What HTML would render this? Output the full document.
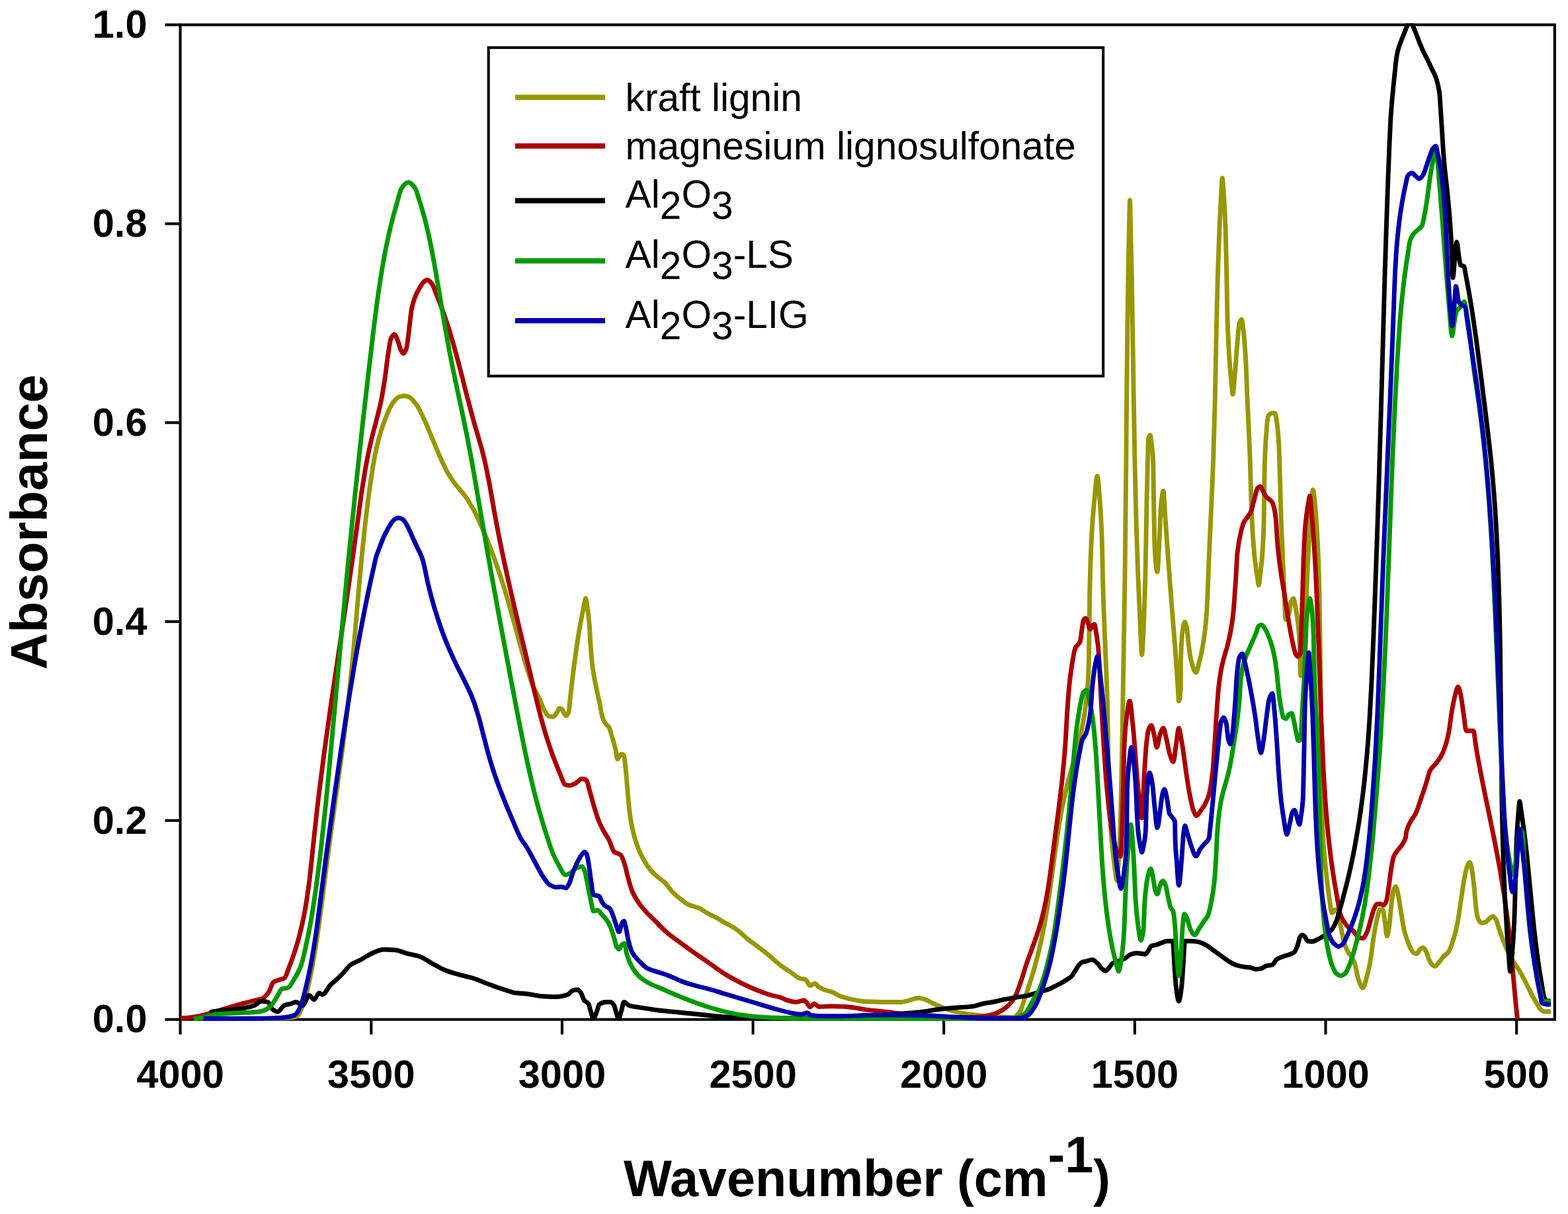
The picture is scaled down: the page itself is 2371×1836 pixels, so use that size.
<!DOCTYPE html>
<html lang="en"><head><meta charset="utf-8"><title>FTIR spectra</title>
<style>html,body{margin:0;padding:0;background:#fff}svg{display:block}text{font-family:"Liberation Sans",Arial,Helvetica,sans-serif;fill:#000}.tk{font-weight:bold;font-size:59.5px}.ax{font-weight:bold;font-size:77.3px}.lg{font-size:58.65px}.cv{fill:none;stroke-width:6.9;stroke-linejoin:round;stroke-linecap:butt}.fr{fill:none;stroke:#000;stroke-width:4.1}</style></head><body>
<svg width="2371" height="1836" viewBox="0 0 2371 1836">
<rect width="2371" height="1836" fill="#fff"/>
<g class="fr">
<rect x="272.6" y="37.5" width="2078.3" height="1504.3"/>
<line x1="249.5" x2="272.6" y1="1541.8" y2="1541.8"/>
<line x1="249.5" x2="272.6" y1="1240.9" y2="1240.9"/>
<line x1="249.5" x2="272.6" y1="940.1" y2="940.1"/>
<line x1="249.5" x2="272.6" y1="639.2" y2="639.2"/>
<line x1="249.5" x2="272.6" y1="338.4" y2="338.4"/>
<line x1="249.5" x2="272.6" y1="37.5" y2="37.5"/>
<line x1="272.6" x2="272.6" y1="1541.8" y2="1564.5"/>
<line x1="561.3" x2="561.3" y1="1541.8" y2="1564.5"/>
<line x1="849.9" x2="849.9" y1="1541.8" y2="1564.5"/>
<line x1="1138.6" x2="1138.6" y1="1541.8" y2="1564.5"/>
<line x1="1427.2" x2="1427.2" y1="1541.8" y2="1564.5"/>
<line x1="1715.9" x2="1715.9" y1="1541.8" y2="1564.5"/>
<line x1="2004.5" x2="2004.5" y1="1541.8" y2="1564.5"/>
<line x1="2293.2" x2="2293.2" y1="1541.8" y2="1564.5"/>
</g>
<clipPath id="pc"><rect x="270.4" y="35.3" width="2082.7" height="1508.7"/></clipPath>
<g class="cv" clip-path="url(#pc)">
<path stroke="#979700" d="M393.0 1540.8C398.7 1540.6 404.3 1540.5 410.0 1540.2C421.7 1539.8 433.3 1539.8 445.0 1538.5C447.5 1538.2 450.1 1535.9 452.6 1533.0C454.5 1530.7 456.5 1523.6 458.4 1518.0C460.4 1512.2 462.5 1505.8 464.5 1498.0C467.0 1488.4 469.5 1476.2 472.0 1463.0C474.8 1447.9 477.7 1429.7 480.5 1410.5C483.0 1393.9 485.4 1374.4 487.9 1355.5C490.3 1336.9 492.7 1316.5 495.2 1298.0C497.6 1279.1 500.1 1261.0 502.6 1243.0C505.0 1225.2 507.5 1208.1 509.9 1190.5C512.3 1173.1 514.8 1155.9 517.2 1138.0C518.1 1131.4 519.0 1124.7 519.8 1117.8C522.3 1098.7 524.7 1079.5 527.2 1057.5C529.3 1038.6 531.4 1017.3 533.5 995.0C534.9 979.4 536.4 961.9 537.9 945.0C539.3 928.6 540.7 911.2 542.2 895.0C543.7 877.9 545.2 860.6 546.7 845.0C548.4 827.2 550.2 810.0 551.9 795.0C555.0 767.8 558.1 743.4 561.3 722.5C563.0 710.9 564.8 700.2 566.5 691.2C568.4 681.7 570.2 673.4 572.1 666.2C574.2 658.1 576.3 651.2 578.4 645.0C580.6 638.5 582.8 632.8 585.0 627.5C587.1 622.5 589.2 617.3 591.3 613.8C593.3 610.2 595.4 607.1 597.5 605.0C599.6 602.9 601.7 600.5 603.8 600.0C606.7 599.3 609.6 598.8 612.5 598.8C615.0 598.8 617.5 600.0 620.0 601.2C622.1 602.3 624.2 605.1 626.2 607.5C628.3 609.9 630.4 612.8 632.5 616.2C634.6 619.7 636.7 624.4 638.8 628.8C640.8 633.1 642.9 637.8 645.0 642.5C647.1 647.3 649.2 652.4 651.3 657.5C653.3 662.4 655.4 667.6 657.5 672.5C659.6 677.6 661.7 682.7 663.8 687.5C665.8 692.2 667.9 696.9 670.0 701.2C672.1 705.6 674.2 710.0 676.2 713.8C678.3 717.5 680.4 720.6 682.5 723.8C684.6 726.9 686.7 729.8 688.8 732.5C690.8 735.2 692.9 737.5 695.0 740.0C697.1 742.5 699.2 744.8 701.2 747.5C703.3 750.2 705.4 753.0 707.5 756.2C709.2 758.9 710.8 762.2 712.5 765.0C713.7 767.1 715.0 768.8 716.2 771.0C721.8 781.0 727.4 794.4 733.0 807.5C737.0 816.8 740.9 826.7 744.9 837.5C750.8 853.5 756.7 871.1 762.6 890.0C767.4 905.4 772.2 922.9 777.0 940.0C780.4 952.2 783.8 965.5 787.2 977.5C790.6 989.6 794.0 1001.7 797.5 1012.5C800.3 1021.4 803.1 1030.8 805.9 1037.5C809.3 1045.5 812.6 1050.3 816.0 1057.5C818.5 1062.9 821.0 1071.1 823.5 1075.0C826.0 1078.9 828.5 1083.8 831.0 1083.8C833.1 1083.8 835.2 1083.8 837.2 1083.8C838.9 1083.8 840.6 1079.9 842.2 1077.5C843.5 1075.7 844.8 1071.2 846.0 1071.2C847.2 1071.2 848.5 1071.8 849.8 1072.5C850.8 1073.1 851.9 1077.1 853.0 1078.8C854.0 1080.3 855.0 1082.5 856.0 1082.5C857.3 1082.5 858.5 1080.5 859.8 1077.5C860.6 1075.5 861.5 1062.4 862.3 1055.0C863.7 1043.1 865.1 1031.1 866.4 1020.0C867.7 1009.5 869.0 999.3 870.3 990.0C871.5 981.1 872.8 972.8 874.0 965.0C875.4 956.1 876.8 947.7 878.3 940.0C879.9 931.0 881.6 922.6 883.2 915.0C884.0 911.4 884.8 905.0 885.6 905.0C886.2 905.0 886.9 910.9 887.6 915.0C888.8 922.2 890.0 931.0 891.2 945.0C891.8 951.8 892.4 966.7 893.0 975.0C893.9 988.0 894.9 1000.0 895.8 1007.5C896.9 1016.3 898.0 1021.6 899.1 1027.5C900.3 1034.0 901.5 1039.3 902.7 1045.0C904.1 1051.9 905.6 1058.0 907.0 1065.0C908.4 1071.4 909.7 1081.1 911.0 1085.0C912.7 1089.8 914.3 1092.8 916.0 1095.0C917.7 1097.2 919.3 1097.4 921.0 1100.0C922.1 1101.7 923.1 1106.6 924.2 1110.0C925.0 1112.6 925.8 1115.2 926.6 1118.0C928.0 1122.7 929.4 1126.9 930.8 1133.0C931.7 1137.1 932.6 1148.0 933.5 1148.0C935.6 1148.0 937.7 1140.5 939.8 1140.5C941.0 1140.5 942.2 1141.4 943.5 1143.0C944.4 1144.1 945.2 1155.0 946.1 1163.0C946.9 1170.3 947.7 1181.3 948.5 1190.5C949.3 1199.6 950.1 1210.9 950.9 1218.0C952.1 1229.6 953.4 1238.6 954.7 1245.5C956.5 1255.0 958.2 1261.9 960.0 1268.0C962.0 1275.0 964.0 1280.7 966.0 1285.5C968.5 1291.5 971.0 1296.2 973.5 1300.5C976.8 1306.2 980.2 1311.5 983.5 1315.5C986.8 1319.5 990.2 1322.5 993.5 1325.5C997.7 1329.2 1001.8 1331.4 1006.0 1335.5C1009.3 1338.8 1012.7 1344.5 1016.0 1348.0C1020.2 1352.4 1024.3 1356.0 1028.5 1359.2C1032.7 1362.5 1036.8 1366.1 1041.0 1368.0C1046.0 1370.3 1051.0 1370.9 1056.0 1373.0C1061.0 1375.1 1066.0 1379.1 1071.0 1381.8C1075.2 1384.0 1079.3 1385.7 1083.5 1388.0C1087.7 1390.3 1091.8 1393.1 1096.0 1395.5C1101.8 1398.9 1107.7 1401.5 1113.5 1405.5C1119.3 1409.5 1125.2 1415.8 1131.0 1420.5C1136.0 1424.5 1141.0 1427.9 1146.0 1431.8C1151.8 1436.2 1157.7 1440.7 1163.5 1445.5C1169.3 1450.3 1175.2 1456.1 1181.0 1460.5C1186.0 1464.2 1191.0 1467.1 1196.0 1470.5C1200.2 1473.3 1204.3 1477.7 1208.5 1479.2C1211.8 1480.5 1215.2 1480.3 1218.5 1481.8C1220.6 1482.7 1222.7 1490.5 1224.8 1490.5C1227.2 1490.5 1229.8 1487.5 1232.2 1487.5C1234.3 1487.5 1236.4 1491.7 1238.5 1493.0C1241.0 1494.6 1243.5 1495.8 1246.0 1496.8C1250.2 1498.3 1254.3 1498.9 1258.5 1500.5C1262.7 1502.1 1266.8 1505.2 1271.0 1506.8C1275.2 1508.3 1279.3 1509.5 1283.5 1510.5C1287.7 1511.5 1291.8 1512.3 1296.0 1513.0C1300.2 1513.7 1304.3 1514.6 1308.5 1514.8C1319.6 1515.2 1330.7 1515.5 1341.8 1515.5C1348.5 1515.5 1355.2 1515.5 1362.0 1515.5C1366.2 1515.5 1370.3 1513.9 1374.5 1513.0C1379.5 1511.9 1384.5 1509.2 1389.5 1509.2C1392.8 1509.2 1396.2 1510.7 1399.5 1511.8C1403.7 1513.1 1407.8 1516.1 1412.0 1518.0C1417.0 1520.3 1422.0 1522.5 1427.0 1524.2C1433.7 1526.6 1440.3 1528.9 1447.0 1530.5C1453.7 1532.1 1460.3 1533.4 1467.0 1534.2C1475.3 1535.3 1483.7 1536.2 1492.0 1536.8C1500.3 1537.3 1508.7 1537.6 1517.0 1538.0C1522.0 1538.2 1527.0 1538.8 1532.0 1538.8C1535.3 1538.8 1538.7 1534.8 1542.0 1530.5C1544.5 1527.3 1546.9 1517.5 1549.4 1510.5C1551.9 1503.4 1554.4 1495.9 1556.9 1488.0C1559.4 1480.2 1561.9 1472.0 1564.4 1463.0C1567.1 1453.0 1569.9 1442.4 1572.6 1430.5C1574.4 1422.9 1576.2 1414.6 1577.9 1405.5C1579.7 1396.5 1581.4 1386.4 1583.2 1375.7C1589.5 1337.0 1595.8 1280.4 1602.1 1243.7C1604.5 1229.9 1606.8 1217.8 1609.2 1207.0C1612.3 1192.5 1615.5 1180.7 1618.7 1168.7C1621.8 1156.9 1624.9 1147.3 1628.0 1135.3C1630.0 1127.5 1632.0 1119.6 1634.1 1110.3C1635.7 1102.9 1637.3 1095.2 1639.0 1085.3C1640.5 1076.2 1642.0 1067.3 1643.5 1052.0C1644.3 1044.2 1645.1 1036.3 1645.8 1018.7C1646.2 1011.0 1646.5 995.5 1646.8 977.0C1647.1 958.7 1647.5 910.7 1647.8 895.0C1648.7 851.0 1649.7 828.9 1650.6 811.7C1652.1 783.5 1653.6 768.5 1655.1 753.3C1656.5 739.9 1657.8 720.0 1659.1 720.0C1660.4 720.0 1661.6 738.6 1662.8 753.3C1663.9 766.7 1665.0 783.1 1666.1 811.7C1666.8 828.5 1667.4 873.5 1668.1 895.0C1669.1 929.5 1670.1 949.9 1671.2 977.0C1672.2 1004.9 1673.3 1021.2 1674.4 1060.0C1674.9 1080.2 1675.5 1129.3 1676.0 1150.0C1677.4 1201.4 1678.8 1238.7 1680.2 1259.0C1681.9 1284.0 1683.6 1297.4 1685.3 1310.0C1686.6 1319.1 1687.8 1332.0 1689.0 1332.0C1689.7 1332.0 1690.3 1318.6 1690.9 1310.0C1691.9 1296.5 1692.9 1283.4 1693.8 1259.0C1694.7 1236.8 1695.6 1189.7 1696.5 1143.7C1697.0 1120.3 1697.4 1087.1 1697.9 1060.3C1698.3 1031.5 1698.8 1006.1 1699.3 977.0C1699.9 940.7 1700.5 908.2 1701.1 862.0C1701.7 817.6 1702.3 755.8 1702.9 695.0C1703.2 659.6 1703.5 614.2 1703.9 580.0C1704.2 549.1 1704.5 520.0 1704.8 496.0C1705.2 463.9 1705.6 436.4 1706.0 413.0C1706.6 380.6 1707.2 352.8 1707.7 330.0C1708.0 319.7 1708.3 302.7 1708.5 302.7C1708.8 302.7 1709.0 320.1 1709.3 330.0C1709.9 354.4 1710.6 381.4 1711.2 413.0C1711.7 437.1 1712.2 466.4 1712.6 496.0C1713.1 522.1 1713.5 553.4 1713.9 580.0C1714.6 620.6 1715.2 662.5 1715.9 695.0C1716.5 727.0 1717.2 754.8 1717.8 778.3C1718.7 810.8 1719.6 837.8 1720.5 861.7C1721.5 887.1 1722.4 909.0 1723.4 928.3C1724.5 951.9 1725.7 990.3 1726.8 990.3C1727.2 990.3 1727.5 982.5 1727.9 976.8C1729.3 953.0 1730.7 917.1 1732.1 861.7C1732.7 839.5 1733.3 788.7 1733.9 761.7C1734.4 735.2 1735.0 713.3 1735.5 695.0C1735.9 682.7 1736.3 664.5 1736.7 663.0C1737.5 659.5 1738.4 658.0 1739.3 658.0C1739.9 658.0 1740.6 665.9 1741.3 671.3C1742.1 677.4 1742.8 680.4 1743.6 695.0C1744.0 702.2 1744.4 741.5 1744.7 761.7C1745.2 786.1 1745.6 820.3 1746.1 828.3C1747.4 851.4 1748.7 865.0 1750.0 865.0C1751.1 865.0 1752.2 831.4 1753.3 811.7C1754.2 796.7 1755.0 769.2 1755.8 761.7C1757.0 751.4 1758.1 742.5 1759.2 742.5C1760.1 742.5 1760.9 766.2 1761.7 778.3C1762.9 794.7 1764.0 812.3 1765.2 828.3C1766.4 845.7 1767.7 862.2 1768.9 878.3C1770.2 895.5 1771.5 911.7 1772.8 928.3C1773.7 939.5 1774.6 950.3 1775.5 961.7C1776.5 974.2 1777.4 986.6 1778.4 1000.0C1779.3 1012.7 1780.3 1025.7 1781.2 1040.0C1781.6 1046.4 1782.0 1060.3 1782.4 1060.3C1783.4 1060.3 1784.3 1057.4 1785.3 1040.0C1785.4 1038.5 1785.5 1003.3 1785.5 1000.0C1786.5 963.8 1787.4 959.0 1788.3 953.3C1789.4 946.3 1790.5 940.8 1791.7 940.8C1792.8 940.8 1793.9 947.2 1795.1 953.3C1795.9 957.8 1796.7 970.7 1797.6 977.0C1798.7 985.8 1799.9 994.4 1801.0 998.7C1803.5 1007.9 1806.0 1017.0 1808.5 1017.0C1810.3 1017.0 1812.1 1005.7 1814.0 998.7C1815.6 992.5 1817.2 986.3 1818.7 977.0C1820.7 965.7 1822.6 953.5 1824.5 928.3C1825.3 918.5 1826.0 895.9 1826.8 878.3C1827.4 862.5 1828.1 844.0 1828.8 828.3C1829.6 810.7 1830.3 795.2 1831.1 778.3C1831.8 761.8 1832.6 746.1 1833.3 728.3C1833.8 717.8 1834.2 707.6 1834.6 695.0C1835.4 672.2 1836.2 645.3 1837.0 613.0C1837.5 594.2 1838.0 569.0 1838.4 546.3C1838.9 524.5 1839.3 499.3 1839.8 479.7C1840.3 454.7 1840.9 431.4 1841.5 413.0C1842.3 387.0 1843.1 365.8 1843.9 347.7C1844.7 328.2 1845.6 312.4 1846.4 297.7C1847.1 287.2 1847.7 269.3 1848.3 269.3C1849.1 269.3 1849.9 286.0 1850.7 297.7C1851.5 310.3 1852.4 324.0 1853.2 347.7C1853.7 361.7 1854.2 389.3 1854.7 413.0C1855.2 433.4 1855.6 465.8 1856.0 479.7C1857.1 513.0 1858.1 531.1 1859.2 546.3C1860.5 564.9 1861.8 576.2 1863.0 588.0C1863.4 591.1 1863.7 596.3 1864.0 596.3C1865.2 596.3 1866.3 575.6 1867.5 563.0C1868.6 550.9 1869.7 533.7 1870.8 521.3C1871.9 509.0 1873.1 490.9 1874.2 488.0C1875.3 485.1 1876.4 483.0 1877.6 483.0C1878.3 483.0 1879.1 490.5 1879.8 496.3C1881.2 506.7 1882.5 523.4 1883.8 546.3C1884.5 558.0 1885.2 580.7 1885.8 596.3C1886.6 614.0 1887.4 628.9 1888.1 646.3C1888.8 661.8 1889.5 675.5 1890.2 694.8C1890.7 708.7 1891.2 730.5 1891.6 745.0C1892.3 764.1 1892.9 783.6 1893.6 795.0C1894.9 818.2 1896.1 832.8 1897.4 845.0C1899.0 859.3 1900.5 869.4 1902.0 878.3C1902.4 880.9 1902.9 885.0 1903.3 885.0C1904.1 885.0 1904.8 876.0 1905.5 870.0C1906.9 859.4 1908.2 849.7 1909.5 828.3C1910.1 818.6 1910.7 806.4 1911.3 778.3C1911.5 769.6 1911.7 739.9 1911.9 728.3C1912.1 713.5 1912.4 701.5 1912.6 694.8C1913.4 673.9 1914.1 664.1 1914.9 654.7C1915.7 643.7 1916.6 631.1 1917.5 629.7C1919.6 626.2 1921.7 624.7 1923.8 624.7C1925.3 624.7 1926.8 624.9 1928.3 625.5C1928.9 625.7 1929.4 629.7 1930.0 633.0C1931.0 639.3 1932.1 648.1 1933.2 663.0C1933.7 669.6 1934.2 681.7 1934.6 694.8C1935.1 707.6 1935.6 729.5 1936.0 745.0C1936.6 763.0 1937.1 780.2 1937.6 795.0C1938.3 813.6 1939.0 829.3 1939.7 845.0C1940.4 862.7 1941.2 878.7 1942.0 895.0C1942.6 909.2 1943.3 936.7 1944.0 936.7C1945.7 936.7 1947.3 932.8 1949.0 928.3C1950.1 925.4 1951.2 912.6 1952.3 910.0C1953.5 907.4 1954.6 905.0 1955.7 905.0C1956.9 905.0 1958.1 913.8 1959.2 920.0C1960.8 928.1 1962.3 936.7 1963.8 953.3C1964.3 958.4 1964.8 966.0 1965.3 976.8C1965.7 986.3 1966.1 1022.0 1966.5 1022.0C1967.7 1022.0 1968.8 1002.9 1970.0 990.0C1971.4 974.0 1972.8 953.9 1974.2 928.3C1975.2 910.9 1976.2 882.9 1977.1 861.7C1977.9 844.3 1978.7 825.1 1979.5 811.7C1980.7 791.2 1981.9 775.2 1983.2 761.7C1983.9 753.6 1984.6 740.8 1985.3 740.8C1986.8 740.8 1988.3 761.3 1989.7 778.3C1991.0 793.0 1992.2 814.1 1993.5 845.0C1994.1 860.3 1994.7 879.4 1995.3 911.7C1995.6 925.8 1995.9 956.3 1996.2 976.8C1997.5 1079.2 1998.9 1230.0 2000.2 1259.0C2001.5 1287.1 2002.9 1295.7 2004.2 1309.0C2006.2 1329.5 2008.2 1345.3 2010.2 1359.0C2011.4 1367.3 2012.7 1380.7 2013.9 1380.7C2015.6 1380.7 2017.3 1375.7 2019.0 1375.7C2020.1 1375.7 2021.2 1377.3 2022.3 1379.0C2024.0 1381.6 2025.7 1392.9 2027.3 1400.7C2029.0 1408.4 2030.7 1420.4 2032.3 1425.7C2034.6 1432.7 2036.8 1437.0 2039.0 1440.7C2040.7 1443.4 2042.3 1444.5 2044.0 1447.3C2045.7 1450.2 2047.3 1453.9 2049.0 1459.0C2050.7 1464.1 2052.3 1476.0 2054.0 1480.7C2056.2 1486.9 2058.4 1494.0 2060.7 1494.0C2062.8 1494.0 2065.0 1483.3 2067.2 1475.7C2069.0 1469.3 2070.8 1460.9 2072.5 1450.7C2074.1 1441.9 2075.6 1426.7 2077.1 1417.3C2078.9 1406.4 2080.7 1396.2 2082.5 1389.0C2083.8 1383.6 2085.2 1375.7 2086.5 1375.7C2087.9 1375.7 2089.3 1375.7 2090.7 1375.7C2091.8 1375.7 2092.9 1385.9 2094.0 1392.3C2095.1 1398.8 2096.2 1415.7 2097.3 1415.7C2098.4 1415.7 2099.6 1407.6 2100.7 1400.7C2101.8 1393.8 2102.9 1376.1 2104.0 1367.3C2105.1 1358.6 2106.2 1348.4 2107.3 1345.7C2108.4 1343.0 2109.6 1340.7 2110.7 1340.7C2112.0 1340.7 2113.3 1349.5 2114.7 1355.7C2116.2 1362.8 2117.7 1375.2 2119.2 1384.0C2120.8 1392.9 2122.3 1403.0 2123.8 1409.0C2126.1 1417.8 2128.4 1424.0 2130.7 1429.0C2132.9 1433.9 2135.1 1439.5 2137.3 1440.7C2139.0 1441.6 2140.7 1442.3 2142.3 1442.3C2144.0 1442.3 2145.7 1437.0 2147.3 1435.7C2148.7 1434.5 2150.1 1433.2 2151.5 1433.2C2152.9 1433.2 2154.3 1435.3 2155.7 1437.3C2157.3 1439.7 2159.0 1447.2 2160.7 1450.7C2162.3 1454.1 2164.0 1457.6 2165.7 1459.0C2167.1 1460.2 2168.4 1461.5 2169.8 1461.5C2171.8 1461.5 2173.7 1457.8 2175.7 1455.7C2177.9 1453.2 2180.1 1449.8 2182.3 1447.3C2185.1 1444.2 2187.9 1443.1 2190.7 1439.0C2192.9 1435.8 2195.0 1429.1 2197.2 1422.3C2199.5 1415.3 2201.8 1407.0 2204.0 1395.7C2205.7 1387.3 2207.4 1373.5 2209.1 1362.3C2210.7 1351.8 2212.3 1338.9 2213.9 1330.7C2215.6 1321.8 2217.3 1312.7 2219.0 1309.0C2220.1 1306.6 2221.2 1304.0 2222.4 1304.0C2223.4 1304.0 2224.4 1309.5 2225.4 1314.0C2226.7 1319.8 2227.9 1330.8 2229.2 1342.3C2230.2 1351.2 2231.2 1369.5 2232.2 1375.7C2233.3 1383.0 2234.5 1388.7 2235.7 1390.7C2237.3 1393.5 2239.0 1395.7 2240.7 1395.7C2242.9 1395.7 2245.1 1394.9 2247.3 1394.0C2249.0 1393.3 2250.7 1390.3 2252.3 1389.0C2254.0 1387.7 2255.7 1385.7 2257.3 1385.7C2258.9 1385.7 2260.4 1388.2 2262.0 1390.7C2263.7 1393.3 2265.4 1400.7 2267.1 1405.7C2268.7 1410.2 2270.2 1414.8 2271.8 1419.0C2273.6 1423.7 2275.4 1428.3 2277.1 1432.3C2279.3 1437.2 2281.5 1441.6 2283.7 1445.7C2285.9 1449.9 2288.1 1453.7 2290.3 1457.3C2292.6 1460.9 2294.8 1463.7 2297.0 1467.3C2299.2 1470.9 2301.4 1474.9 2303.7 1479.0C2305.9 1483.1 2308.1 1487.9 2310.3 1492.3C2312.6 1496.8 2314.8 1501.5 2317.0 1505.7C2319.2 1509.8 2321.4 1513.7 2323.7 1517.3C2325.9 1520.9 2328.1 1525.7 2330.3 1527.3C2332.0 1528.6 2333.7 1529.8 2335.3 1529.8C2338.6 1529.8 2341.8 1529.8 2345.0 1529.3"/>
<path stroke="#AA0000" d="M273.0 1540.0C282.0 1539.6 291.0 1538.3 300.0 1536.8C308.3 1535.4 316.7 1532.4 325.0 1530.0C335.0 1527.2 345.0 1523.8 355.0 1521.0C365.0 1518.2 375.0 1515.4 385.0 1513.0C388.8 1512.1 392.5 1511.9 396.2 1510.5C399.6 1509.3 402.9 1505.1 406.2 1500.5C408.8 1497.1 411.2 1486.6 413.8 1485.0C416.7 1483.1 419.6 1482.8 422.5 1481.8C425.0 1480.9 427.5 1480.7 430.0 1479.2C432.7 1477.7 435.3 1467.2 438.0 1460.5C440.1 1455.1 442.3 1449.4 444.4 1443.0C446.9 1435.5 449.4 1427.5 452.0 1418.0C454.8 1407.3 457.6 1395.6 460.5 1380.5C463.0 1367.1 465.5 1350.1 468.0 1330.5C470.2 1313.2 472.4 1288.2 474.7 1268.0C477.2 1244.8 479.7 1221.6 482.3 1200.5C485.0 1178.3 487.6 1158.1 490.3 1138.0C491.2 1131.1 492.2 1124.4 493.1 1117.8C495.9 1097.2 498.8 1077.2 501.6 1057.5C504.7 1036.2 507.8 1015.7 510.9 995.0C513.4 978.2 515.9 961.7 518.4 945.0C520.9 928.4 523.4 911.9 525.8 895.0C528.3 878.5 530.7 862.1 533.1 845.0C535.4 828.7 537.7 811.8 540.0 795.0C542.3 778.5 544.5 760.1 546.8 745.0C549.6 726.6 552.3 709.3 555.1 695.0C557.5 682.5 559.9 672.0 562.3 662.0C564.4 652.9 566.6 645.5 568.8 637.0C571.0 628.1 573.3 620.3 575.6 609.5C577.8 599.2 579.9 586.3 582.1 572.0C583.6 561.9 585.1 546.8 586.7 537.0C588.2 527.3 589.7 515.1 591.2 512.0C592.9 508.6 594.6 505.8 596.2 505.8C597.9 505.8 599.6 510.8 601.2 514.5C602.9 518.2 604.6 526.5 606.2 529.5C607.5 531.8 608.8 534.5 610.0 534.5C611.5 534.5 613.0 531.1 614.5 527.0C615.9 523.2 617.3 507.6 618.8 497.0C620.0 487.6 621.2 473.2 622.5 467.0C624.2 458.7 625.8 453.8 627.5 449.5C630.0 443.0 632.5 438.6 635.0 434.5C637.1 431.1 639.2 427.3 641.2 425.8C642.9 424.5 644.6 423.2 646.2 423.2C648.3 423.2 650.4 425.8 652.4 428.2C655.2 431.4 657.9 440.4 660.6 447.0C663.8 454.8 667.0 463.1 670.2 472.0C673.5 481.3 676.8 491.3 680.2 502.0C683.3 512.1 686.4 523.1 689.5 534.5C692.8 546.4 696.0 559.4 699.3 572.0C702.0 582.7 704.8 594.0 707.6 604.5C710.7 616.5 713.9 628.2 717.0 639.5C718.7 645.5 720.4 651.2 722.1 657.0C724.0 663.7 725.9 669.9 727.9 677.0C729.4 682.6 730.9 688.4 732.5 695.0C735.1 706.1 737.6 719.0 740.2 732.5C742.8 746.3 745.5 763.1 748.1 777.5C751.2 794.0 754.2 810.0 757.3 825.0C760.8 842.6 764.4 858.9 768.0 875.0C771.4 890.5 774.9 905.2 778.3 920.0C781.5 933.5 784.6 946.7 787.8 960.0C790.2 970.0 792.6 980.0 795.0 990.0C797.7 1001.6 800.5 1013.3 803.3 1025.0C805.9 1035.8 808.4 1047.0 811.0 1057.5C813.5 1067.8 816.1 1078.2 818.6 1087.5C821.6 1098.4 824.5 1108.7 827.5 1118.0C830.3 1127.0 833.2 1135.3 836.0 1143.0C839.3 1152.0 842.7 1160.3 846.0 1168.0C848.9 1174.7 851.8 1185.7 854.7 1186.8C856.8 1187.5 858.9 1188.0 861.0 1188.0C864.3 1188.0 867.7 1185.9 871.0 1184.2C873.9 1182.8 876.8 1178.0 879.8 1178.0C881.8 1178.0 883.9 1178.5 886.0 1179.2C888.1 1180.0 890.2 1191.2 892.2 1198.0C894.3 1204.8 896.4 1213.7 898.5 1220.5C901.0 1228.7 903.5 1237.0 906.0 1243.0C908.5 1249.0 911.0 1253.5 913.5 1258.0C916.0 1262.5 918.5 1265.6 921.0 1270.5C923.5 1275.4 926.0 1285.9 928.5 1288.0C931.8 1290.8 935.2 1290.1 938.5 1293.0C940.6 1294.8 942.7 1301.7 944.8 1308.0C946.4 1313.0 948.1 1322.0 949.8 1328.0C951.8 1335.4 953.9 1343.2 956.0 1348.0C959.3 1355.7 962.7 1360.6 966.0 1365.5C969.3 1370.4 972.7 1374.3 976.0 1378.0C981.0 1383.6 986.0 1388.0 991.0 1393.0C996.8 1398.8 1002.7 1405.5 1008.5 1410.5C1015.2 1416.2 1021.8 1420.6 1028.5 1425.5C1036.0 1431.0 1043.5 1436.5 1051.0 1441.8C1057.7 1446.4 1064.3 1450.9 1071.0 1455.5C1079.3 1461.3 1087.7 1467.9 1096.0 1473.0C1104.3 1478.1 1112.7 1482.6 1121.0 1486.8C1129.3 1490.9 1137.7 1494.7 1146.0 1498.0C1152.7 1500.6 1159.3 1503.1 1166.0 1505.0C1170.2 1506.2 1174.3 1506.8 1178.5 1508.0C1182.7 1509.2 1186.8 1511.9 1191.0 1513.0C1195.2 1514.1 1199.3 1515.5 1203.5 1515.5C1207.7 1515.5 1211.8 1513.0 1216.0 1513.0C1217.7 1513.0 1219.3 1516.1 1221.0 1518.0C1222.2 1519.4 1223.5 1523.0 1224.8 1523.0C1226.8 1523.0 1228.9 1518.0 1231.0 1518.0C1233.5 1518.0 1236.0 1522.5 1238.5 1522.5C1245.2 1522.5 1251.8 1521.8 1258.5 1521.8C1266.8 1521.8 1275.2 1522.4 1283.5 1523.0C1291.8 1523.6 1300.2 1525.7 1308.5 1526.8C1319.6 1528.2 1330.7 1529.2 1341.8 1530.5C1358.5 1532.5 1375.2 1535.6 1392.0 1536.8C1408.7 1537.9 1425.3 1539.2 1442.0 1539.2C1454.5 1539.2 1467.0 1538.8 1479.5 1538.0C1487.8 1537.5 1496.2 1535.5 1504.5 1533.0C1510.3 1531.2 1516.2 1527.6 1522.0 1523.0C1526.2 1519.7 1530.3 1514.9 1534.5 1508.0C1537.7 1502.6 1541.0 1492.2 1544.2 1483.0C1546.8 1475.5 1549.5 1465.8 1552.1 1458.0C1554.8 1450.0 1557.5 1443.0 1560.2 1435.5C1563.3 1426.7 1566.5 1418.8 1569.6 1409.0C1571.6 1403.0 1573.5 1396.6 1575.5 1389.0C1577.7 1380.4 1579.9 1370.7 1582.1 1359.0C1583.9 1349.6 1585.7 1337.9 1587.5 1325.7C1588.9 1315.6 1590.4 1303.5 1591.9 1292.3C1593.3 1281.2 1594.8 1270.1 1596.2 1259.0C1597.6 1248.4 1599.0 1238.1 1600.4 1227.0C1602.4 1211.1 1604.3 1196.1 1606.3 1177.0C1607.8 1162.5 1609.3 1147.5 1610.8 1127.0C1611.8 1113.6 1612.8 1091.4 1613.7 1077.0C1614.8 1061.2 1615.9 1045.6 1617.0 1035.3C1618.5 1020.9 1620.0 1010.9 1621.5 1002.0C1622.9 993.3 1624.4 983.7 1625.9 980.3C1628.4 974.7 1630.8 976.4 1633.3 970.0C1634.2 967.9 1635.0 958.6 1635.8 953.3C1636.7 948.1 1637.5 939.8 1638.3 938.3C1639.4 936.4 1640.6 935.0 1641.7 935.0C1642.8 935.0 1643.9 939.0 1645.0 941.7C1646.1 944.3 1647.2 951.7 1648.3 951.7C1649.4 951.7 1650.6 947.8 1651.7 946.7C1652.8 945.5 1654.0 944.2 1655.1 944.2C1655.7 944.2 1656.3 949.9 1656.9 953.3C1658.1 960.0 1659.2 966.0 1660.4 977.0C1662.3 995.3 1664.2 1048.3 1666.2 1080.0C1668.3 1116.0 1670.5 1154.7 1672.7 1180.0C1675.2 1209.3 1677.8 1234.5 1680.3 1250.0C1682.9 1265.6 1685.4 1279.2 1688.0 1285.0C1690.2 1289.9 1692.3 1295.0 1694.5 1295.0C1695.2 1295.0 1695.9 1275.3 1696.6 1259.0C1697.2 1244.7 1697.8 1216.7 1698.4 1193.7C1699.0 1172.7 1699.6 1137.8 1700.1 1127.0C1701.6 1098.7 1703.1 1086.5 1704.6 1077.0C1705.8 1069.2 1707.0 1060.3 1708.2 1060.3C1709.7 1060.3 1711.2 1080.2 1712.7 1093.7C1713.7 1102.7 1714.7 1114.7 1715.7 1127.0C1716.5 1137.0 1717.4 1150.1 1718.2 1160.3C1719.4 1175.5 1720.6 1191.0 1721.9 1202.0C1723.5 1216.4 1725.1 1237.0 1726.7 1237.0C1727.8 1237.0 1728.9 1195.2 1730.0 1177.0C1731.1 1158.8 1732.2 1137.6 1733.3 1127.0C1734.4 1116.4 1735.6 1106.6 1736.7 1103.7C1738.1 1100.0 1739.4 1097.0 1740.8 1097.0C1742.2 1097.0 1743.6 1105.0 1745.0 1110.3C1746.4 1115.7 1747.8 1130.3 1749.2 1130.3C1750.8 1130.3 1752.5 1114.5 1754.2 1110.3C1755.8 1106.1 1757.5 1101.2 1759.2 1101.2C1760.6 1101.2 1761.9 1109.9 1763.3 1115.3C1765.0 1121.9 1766.7 1133.5 1768.3 1138.7C1770.3 1144.7 1772.2 1152.0 1774.2 1152.0C1775.6 1152.0 1776.9 1135.5 1778.3 1127.0C1779.7 1118.5 1781.1 1101.2 1782.5 1101.2C1783.8 1101.2 1785.0 1112.0 1786.3 1118.7C1787.7 1125.8 1789.0 1134.6 1790.3 1143.7C1791.8 1153.8 1793.3 1167.2 1794.9 1177.0C1796.6 1188.2 1798.3 1198.8 1800.0 1207.0C1801.7 1214.9 1803.3 1223.2 1805.0 1227.0C1806.4 1230.1 1807.8 1233.7 1809.2 1233.7C1811.1 1233.7 1813.1 1229.5 1815.0 1227.0C1817.2 1224.1 1819.5 1221.1 1821.7 1217.0C1823.8 1213.1 1826.0 1209.3 1828.1 1202.0C1829.9 1195.8 1831.7 1184.5 1833.5 1168.7C1834.6 1159.7 1835.6 1142.0 1836.6 1127.0C1837.7 1111.6 1838.7 1091.7 1839.8 1077.0C1840.9 1061.4 1842.0 1044.7 1843.2 1035.3C1844.7 1022.5 1846.2 1014.3 1847.7 1007.0C1849.1 1000.2 1850.6 995.4 1852.0 990.3C1853.3 985.5 1854.7 982.3 1856.0 977.0C1858.6 966.8 1861.2 956.2 1863.8 936.7C1865.4 924.7 1867.0 901.1 1868.5 878.3C1869.4 866.4 1870.2 844.4 1871.0 836.7C1872.9 819.1 1874.8 811.2 1876.7 803.3C1878.1 797.7 1879.4 792.7 1880.8 790.0C1882.7 786.0 1884.7 784.7 1886.7 781.7C1888.3 779.1 1890.0 777.2 1891.7 773.3C1893.3 769.5 1895.0 760.8 1896.7 755.0C1898.3 749.2 1900.0 740.0 1901.7 738.3C1903.1 737.0 1904.4 735.8 1905.8 735.8C1907.2 735.8 1908.6 740.9 1910.0 743.3C1911.7 746.2 1913.3 749.6 1915.0 751.7C1918.0 755.3 1920.9 755.2 1923.9 760.0C1925.4 762.5 1927.0 768.8 1928.5 778.3C1929.8 786.2 1931.0 815.6 1932.3 828.3C1934.0 845.8 1935.8 858.0 1937.5 870.0C1938.9 879.4 1940.2 886.4 1941.6 895.0C1943.3 905.8 1945.1 917.8 1946.8 928.3C1948.7 940.1 1950.6 951.9 1952.5 961.7C1953.6 967.3 1954.7 972.4 1955.8 977.0C1956.9 981.3 1957.9 986.8 1958.9 988.7C1960.1 990.8 1961.2 992.8 1962.3 992.8C1963.7 992.8 1965.1 991.8 1966.5 987.0C1966.7 986.5 1966.8 980.5 1967.0 976.8C1967.7 958.3 1968.5 935.2 1969.2 911.7C1969.9 891.2 1970.5 861.2 1971.2 845.0C1972.1 823.4 1973.0 804.7 1973.8 795.0C1975.5 776.5 1977.2 767.3 1978.8 758.3C1979.4 755.0 1980.0 750.0 1980.7 750.0C1981.4 750.0 1982.1 762.7 1982.7 770.0C1983.9 782.3 1985.1 795.4 1986.2 811.7C1987.2 825.7 1988.3 842.4 1989.3 861.7C1990.0 876.0 1990.7 893.6 1991.5 911.7C1992.3 931.5 1993.1 954.3 1994.0 976.8C1994.5 993.0 1995.1 1010.4 1995.7 1027.0C1996.5 1049.5 1997.3 1073.3 1998.1 1093.7C1999.1 1117.8 2000.0 1141.8 2001.0 1160.3C2002.0 1179.9 2003.0 1196.4 2004.0 1210.3C2005.3 1229.4 2006.7 1244.9 2008.1 1258.8C2009.3 1271.5 2010.6 1282.3 2011.8 1292.3C2013.4 1304.7 2014.9 1315.6 2016.5 1325.7C2018.2 1336.6 2019.9 1346.5 2021.6 1355.7C2023.4 1365.9 2025.3 1379.1 2027.2 1384.0C2030.6 1392.8 2034.0 1396.9 2037.3 1400.7C2040.7 1404.4 2044.0 1405.6 2047.3 1409.0C2049.6 1411.3 2051.8 1416.4 2054.0 1417.3C2056.2 1418.3 2058.4 1419.0 2060.7 1419.0C2062.9 1419.0 2065.1 1413.7 2067.3 1409.0C2069.0 1405.5 2070.7 1397.9 2072.3 1392.3C2074.0 1386.8 2075.7 1379.4 2077.3 1375.7C2079.0 1372.0 2080.7 1367.3 2082.3 1367.3C2084.0 1367.3 2085.7 1367.3 2087.3 1367.3C2089.0 1367.3 2090.7 1369.0 2092.3 1369.0C2093.7 1369.0 2095.1 1365.9 2096.5 1362.3C2097.6 1359.5 2098.7 1349.7 2099.8 1342.3C2100.9 1334.9 2102.1 1324.2 2103.2 1317.3C2104.6 1308.7 2105.9 1299.2 2107.3 1295.7C2109.0 1291.4 2110.7 1289.7 2112.3 1287.3C2114.6 1284.1 2116.8 1282.4 2119.0 1279.0C2121.2 1275.6 2123.4 1274.1 2125.7 1265.7C2125.9 1264.6 2126.2 1260.1 2126.5 1258.8C2128.4 1250.0 2130.4 1247.6 2132.3 1243.7C2135.1 1238.1 2137.9 1236.0 2140.7 1230.3C2143.4 1224.7 2146.2 1215.0 2149.0 1207.0C2151.8 1199.0 2154.6 1190.8 2157.3 1182.0C2159.0 1176.7 2160.7 1168.4 2162.3 1165.3C2165.1 1160.2 2167.9 1158.9 2170.7 1155.3C2173.4 1151.7 2176.2 1148.6 2179.0 1143.7C2181.3 1139.5 2183.6 1134.1 2185.9 1127.0C2187.5 1122.0 2189.1 1115.4 2190.8 1107.0C2192.2 1099.5 2193.7 1085.3 2195.1 1077.0C2196.9 1066.5 2198.8 1056.8 2200.6 1050.3C2202.0 1045.5 2203.4 1038.7 2204.8 1038.7C2206.2 1038.7 2207.6 1045.9 2209.0 1052.0C2210.4 1058.0 2211.8 1071.5 2213.2 1080.3C2214.6 1089.2 2215.9 1105.3 2217.3 1105.3C2219.6 1105.3 2221.8 1105.3 2224.0 1105.3C2225.4 1105.3 2226.8 1105.3 2228.1 1105.3C2229.3 1105.3 2230.4 1120.2 2231.5 1127.0C2232.9 1135.9 2234.4 1144.0 2235.8 1152.0C2237.4 1160.7 2239.0 1168.9 2240.6 1177.0C2242.3 1185.6 2243.9 1193.8 2245.6 1202.0C2247.3 1210.4 2249.1 1218.7 2250.8 1227.0C2252.2 1233.7 2253.6 1240.3 2254.9 1247.0C2255.8 1251.0 2256.6 1255.0 2257.4 1259.0C2258.5 1264.5 2259.6 1270.0 2260.7 1275.7C2262.3 1283.8 2263.9 1292.0 2265.5 1300.7C2267.0 1308.7 2268.5 1316.9 2269.9 1325.7C2271.5 1335.2 2273.1 1344.9 2274.8 1355.7C2276.3 1366.0 2277.8 1376.7 2279.4 1389.0C2280.8 1400.0 2282.1 1412.3 2283.5 1425.7C2285.1 1440.8 2286.7 1458.7 2288.2 1475.7C2289.2 1486.6 2290.2 1498.4 2291.2 1509.0C2292.3 1520.1 2293.3 1530.7 2294.4 1540.8"/>
<path stroke="#000000" d="M317.5 1530.5C324.2 1529.6 330.8 1528.7 337.5 1528.0C345.8 1527.1 354.2 1526.7 362.5 1525.5C370.0 1524.5 377.5 1523.1 385.0 1520.5C388.3 1519.3 391.7 1514.2 395.0 1514.2C398.3 1514.2 401.7 1514.7 405.0 1515.5C407.5 1516.1 410.0 1525.1 412.5 1526.8C415.0 1528.4 417.5 1530.0 420.0 1530.0C423.3 1530.0 426.7 1521.8 430.0 1520.5C433.3 1519.2 436.7 1519.0 440.0 1518.0C442.5 1517.3 445.0 1515.5 447.5 1515.5C450.8 1515.5 454.2 1520.5 457.5 1520.5C460.8 1520.5 464.2 1505.5 467.5 1505.5C470.0 1505.5 472.5 1511.8 475.0 1511.8C477.5 1511.8 480.0 1501.8 482.5 1501.8C484.2 1501.8 485.8 1504.2 487.5 1504.2C491.7 1504.2 495.8 1493.4 500.0 1489.2C503.3 1485.9 506.7 1483.6 510.0 1480.5C513.3 1477.4 516.7 1474.0 520.0 1470.5C523.3 1467.0 526.7 1461.6 530.0 1459.2C535.0 1455.7 540.0 1454.4 545.0 1451.8C550.8 1448.6 556.7 1444.2 562.5 1441.8C568.3 1439.3 574.2 1436.0 580.0 1436.0C585.8 1436.0 591.7 1436.3 597.5 1436.8C603.3 1437.2 609.2 1440.2 615.0 1441.8C621.7 1443.5 628.3 1444.4 635.0 1446.8C641.7 1449.1 648.3 1454.5 655.0 1458.0C661.7 1461.5 668.3 1465.4 675.0 1468.0C681.7 1470.6 688.3 1472.4 695.0 1474.2C701.7 1476.1 708.3 1477.2 715.0 1479.2C722.5 1481.5 730.0 1485.2 737.5 1488.0C745.8 1491.1 754.2 1494.1 762.5 1496.8C768.3 1498.6 774.2 1501.0 780.0 1501.8C785.3 1502.4 790.7 1502.5 796.0 1503.0C804.3 1503.8 812.7 1506.3 821.0 1506.8C827.7 1507.1 834.3 1507.5 841.0 1507.5C846.8 1507.5 852.7 1506.2 858.5 1504.2C861.0 1503.4 863.5 1498.7 866.0 1498.0C868.5 1497.3 871.0 1496.8 873.5 1496.8C875.2 1496.8 876.8 1499.4 878.5 1501.8C880.2 1504.1 881.8 1511.0 883.5 1513.0C885.6 1515.5 887.7 1515.2 889.8 1518.0C891.0 1519.7 892.2 1526.8 893.5 1530.5C894.8 1534.2 896.0 1540.5 897.2 1540.5C898.9 1540.5 900.6 1534.5 902.2 1530.5C903.5 1527.5 904.8 1520.2 906.0 1519.2C909.3 1516.7 912.7 1515.5 916.0 1515.5C918.5 1515.5 921.0 1515.5 923.5 1515.5C925.2 1515.5 926.8 1517.9 928.5 1520.5C929.8 1522.5 931.0 1529.5 932.2 1533.0C933.3 1536.0 934.4 1540.8 935.5 1540.8C936.9 1540.8 938.3 1532.5 939.8 1528.0C941.0 1524.0 942.2 1515.5 943.5 1515.5C946.0 1515.5 948.5 1519.7 951.0 1520.5C957.7 1522.6 964.3 1523.1 971.0 1524.2C979.3 1525.6 987.7 1527.0 996.0 1528.0C1004.3 1529.0 1012.7 1529.7 1021.0 1530.5C1029.3 1531.3 1037.7 1532.2 1046.0 1533.0C1054.3 1533.8 1062.7 1534.7 1071.0 1535.5C1079.3 1536.3 1087.7 1537.6 1096.0 1538.0C1121.0 1539.2 1146.0 1540.0 1171.0 1540.0C1196.0 1540.0 1221.0 1539.7 1246.0 1539.2C1262.7 1539.0 1279.3 1538.2 1296.0 1537.5C1311.2 1536.8 1326.5 1535.8 1341.8 1534.8C1358.5 1533.6 1375.2 1532.4 1392.0 1530.5C1400.3 1529.6 1408.7 1527.8 1417.0 1526.8C1425.3 1525.8 1433.7 1525.0 1442.0 1524.2C1451.3 1523.4 1460.7 1523.2 1470.0 1522.1C1475.6 1521.4 1481.1 1519.1 1486.7 1517.9C1492.2 1516.8 1497.8 1516.1 1503.3 1515.0C1508.9 1513.9 1514.4 1512.3 1520.0 1511.2C1525.6 1510.2 1531.1 1509.2 1536.7 1508.3C1542.2 1507.4 1547.8 1507.0 1553.3 1505.8C1556.1 1505.3 1558.9 1504.2 1561.7 1503.3C1567.2 1501.7 1572.8 1500.0 1578.3 1498.3C1581.1 1497.5 1583.9 1496.9 1586.7 1495.8C1589.4 1494.8 1592.2 1493.1 1595.0 1491.7C1597.8 1490.3 1600.6 1489.0 1603.3 1487.5C1606.1 1486.0 1608.9 1484.3 1611.7 1482.5C1614.4 1480.7 1617.2 1479.4 1620.0 1476.7C1621.4 1475.3 1622.8 1472.9 1624.2 1470.8C1625.6 1468.8 1626.9 1466.2 1628.3 1464.2C1629.7 1462.1 1631.1 1459.7 1632.5 1458.3C1633.9 1456.9 1635.3 1455.4 1636.7 1455.0C1638.1 1454.6 1639.4 1454.5 1640.8 1454.2C1644.4 1453.4 1648.1 1451.5 1651.7 1451.5C1654.4 1451.5 1657.2 1454.8 1660.0 1457.3C1662.2 1459.3 1664.4 1464.1 1666.7 1465.7C1668.3 1466.8 1670.0 1468.2 1671.7 1468.2C1673.3 1468.2 1675.0 1465.7 1676.7 1464.0C1678.3 1462.3 1680.0 1458.5 1681.7 1457.3C1685.0 1455.1 1688.3 1454.6 1691.7 1453.2C1695.0 1451.8 1698.3 1450.8 1701.7 1449.0C1704.4 1447.5 1707.2 1444.0 1710.0 1443.2C1712.8 1442.3 1715.6 1441.5 1718.3 1441.5C1721.1 1441.5 1723.9 1442.0 1726.7 1442.3C1728.3 1442.5 1730.0 1443.2 1731.7 1443.2C1733.3 1443.2 1735.0 1439.6 1736.7 1437.3C1738.1 1435.5 1739.4 1431.3 1740.8 1430.7C1743.3 1429.6 1745.8 1429.7 1748.3 1429.0C1751.1 1428.2 1753.9 1426.6 1756.7 1425.7C1759.4 1424.7 1762.2 1423.2 1765.0 1423.2C1767.8 1423.2 1770.6 1423.2 1773.3 1423.2C1774.2 1423.2 1775.0 1447.5 1775.8 1459.0C1776.7 1470.5 1777.5 1485.9 1778.3 1492.3C1779.7 1503.1 1781.1 1514.0 1782.5 1514.0C1783.9 1514.0 1785.3 1503.1 1786.7 1492.3C1787.5 1485.9 1788.3 1470.5 1789.2 1459.0C1790.0 1447.5 1790.8 1423.2 1791.7 1423.2C1795.0 1423.2 1798.3 1423.2 1801.7 1423.2C1805.6 1423.2 1809.4 1424.0 1813.3 1424.8C1816.7 1425.6 1820.0 1427.3 1823.3 1429.0C1827.2 1431.0 1831.1 1434.6 1835.0 1437.3C1838.9 1440.1 1842.8 1442.9 1846.7 1445.7C1850.6 1448.4 1854.4 1451.7 1858.3 1454.0C1862.2 1456.3 1866.1 1458.7 1870.0 1459.8C1873.9 1461.0 1877.8 1461.8 1881.7 1462.3C1884.4 1462.7 1887.2 1462.8 1890.0 1463.2C1892.8 1463.6 1895.6 1465.7 1898.3 1465.7C1901.1 1465.7 1903.9 1465.3 1906.7 1464.8C1909.4 1464.4 1912.2 1461.4 1915.0 1460.7C1918.0 1459.9 1921.0 1460.0 1924.0 1459.0C1926.2 1458.3 1928.4 1452.1 1930.7 1450.7C1934.0 1448.5 1937.3 1447.7 1940.7 1446.5C1944.0 1445.3 1947.3 1444.5 1950.7 1443.2C1952.9 1442.3 1955.1 1441.7 1957.3 1439.8C1959.0 1438.4 1960.7 1433.5 1962.3 1429.0C1963.4 1426.0 1964.6 1419.1 1965.7 1417.3C1966.8 1415.6 1967.9 1414.0 1969.0 1414.0C1970.1 1414.0 1971.2 1414.9 1972.3 1415.7C1974.0 1416.9 1975.7 1422.8 1977.3 1423.2C1979.6 1423.7 1981.8 1424.0 1984.0 1424.0C1986.8 1424.0 1989.6 1421.9 1992.3 1420.7C1994.6 1419.7 1996.8 1418.6 1999.0 1417.3C2000.7 1416.4 2002.3 1415.2 2004.0 1414.0C2007.3 1411.6 2010.7 1409.7 2014.0 1405.7C2016.3 1402.9 2018.6 1398.0 2020.9 1392.3C2022.9 1387.4 2024.9 1379.3 2026.9 1372.3C2029.0 1364.9 2031.1 1357.2 2033.2 1349.0C2035.5 1340.1 2037.9 1330.7 2040.2 1320.7C2042.0 1312.8 2043.8 1304.5 2045.6 1295.7C2047.1 1288.3 2048.6 1280.5 2050.0 1272.3C2050.8 1268.0 2051.6 1263.6 2052.4 1258.8C2054.1 1248.9 2055.7 1238.7 2057.4 1227.0C2059.1 1214.5 2060.9 1201.1 2062.7 1185.3C2064.3 1170.9 2065.9 1154.7 2067.5 1135.3C2068.7 1121.1 2069.9 1104.5 2071.1 1085.3C2072.0 1071.0 2072.9 1053.9 2073.8 1035.3C2074.4 1022.8 2075.0 1008.2 2075.6 993.7C2075.8 988.2 2076.1 982.5 2076.3 976.8C2077.1 955.7 2078.0 934.1 2078.8 911.7C2079.6 890.2 2080.4 867.9 2081.2 845.0C2082.0 823.5 2082.7 801.2 2083.5 778.3C2084.0 762.1 2084.5 745.3 2085.1 728.3C2085.4 717.4 2085.8 706.4 2086.1 695.0C2086.9 668.5 2087.7 641.1 2088.5 613.0C2089.1 591.4 2089.7 568.6 2090.4 546.3C2091.0 524.2 2091.6 501.4 2092.2 479.7C2092.8 457.0 2093.5 434.3 2094.1 413.0C2094.8 390.3 2095.5 368.2 2096.2 347.7C2097.0 324.1 2097.7 301.8 2098.5 281.0C2099.2 264.2 2099.8 248.5 2100.4 233.3C2101.1 215.9 2101.9 195.8 2102.6 183.3C2103.1 174.1 2103.7 167.6 2104.2 160.9C2104.7 155.1 2105.1 150.0 2105.6 145.0C2106.2 139.1 2106.7 133.8 2107.2 128.3C2107.8 122.8 2108.3 117.2 2108.9 111.7C2109.2 108.9 2109.5 106.1 2109.8 103.3C2110.0 100.5 2110.3 97.4 2110.6 95.0C2111.0 91.9 2111.3 89.0 2111.7 86.7C2112.2 83.4 2112.8 80.6 2113.3 78.3C2114.1 74.9 2114.9 72.4 2115.7 70.0C2116.7 66.9 2117.7 64.4 2118.8 61.7C2119.9 58.8 2121.0 56.1 2122.1 53.3C2123.2 50.5 2124.3 47.8 2125.4 45.0C2126.4 42.5 2127.4 40.0 2128.4 37.5C2129.1 35.8 2129.7 34.0 2130.4 32.5C2131.0 31.2 2131.5 29.0 2132.1 29.0C2132.7 29.0 2133.3 31.2 2133.9 32.5C2134.6 34.0 2135.2 35.8 2135.9 37.5C2136.9 40.0 2137.9 42.5 2138.9 45.0C2140.0 47.8 2141.1 50.4 2142.2 53.3C2143.3 56.0 2144.3 59.0 2145.4 61.7C2146.5 64.6 2147.6 67.4 2148.8 70.0C2150.0 72.9 2151.2 75.7 2152.5 78.3C2153.9 81.2 2155.3 83.9 2156.7 86.7C2158.1 89.4 2159.4 92.1 2160.8 95.0C2162.1 97.7 2163.3 100.6 2164.6 103.3C2166.0 106.2 2167.4 108.6 2168.8 111.7C2169.9 114.2 2171.0 116.6 2172.1 120.0C2172.8 122.2 2173.6 125.1 2174.3 128.3C2174.9 130.7 2175.4 133.3 2176.0 136.7C2176.4 138.9 2176.7 141.2 2177.1 145.0C2177.4 148.4 2177.8 155.7 2178.1 160.9C2178.6 168.6 2179.1 175.6 2179.6 183.3C2180.1 191.3 2180.6 200.4 2181.1 208.3C2181.9 220.1 2182.6 232.7 2183.4 241.7C2184.8 258.3 2186.2 268.7 2187.6 281.8C2187.9 284.4 2188.2 286.7 2188.5 289.3C2189.5 299.5 2190.5 310.0 2191.6 322.7C2192.4 332.3 2193.2 343.4 2193.9 356.0C2194.4 363.4 2194.9 371.6 2195.3 381.0C2195.9 392.2 2196.4 420.0 2197.0 420.0C2197.8 420.0 2198.7 402.8 2199.5 395.0C2200.6 384.6 2201.7 366.0 2202.8 366.0C2203.9 366.0 2205.1 383.2 2206.2 389.3C2207.0 394.0 2207.8 400.4 2208.7 401.0C2210.4 402.2 2212.1 401.5 2213.8 402.7C2214.5 403.1 2215.2 409.4 2215.9 413.0C2217.9 423.5 2220.0 434.5 2222.0 446.3C2223.8 456.7 2225.6 467.9 2227.4 479.7C2229.0 490.2 2230.6 501.4 2232.2 513.0C2234.0 526.2 2235.8 540.4 2237.6 554.7C2239.4 568.2 2241.1 582.4 2242.8 596.3C2244.6 610.2 2246.3 623.7 2248.0 638.0C2249.3 648.8 2250.6 659.7 2251.9 671.3C2252.8 678.8 2253.6 686.2 2254.5 694.8C2256.4 714.3 2258.3 734.8 2260.2 761.7C2261.5 779.9 2262.7 801.5 2264.0 828.3C2264.7 842.2 2265.4 858.5 2266.0 878.3C2266.5 892.2 2267.0 908.2 2267.4 928.3C2267.7 941.6 2268.1 956.4 2268.4 976.8C2268.8 1005.7 2269.2 1060.3 2269.7 1100.0C2270.0 1134.4 2270.4 1176.2 2270.8 1200.0C2271.2 1225.4 2271.6 1243.3 2272.0 1259.0C2272.5 1279.3 2273.0 1295.0 2273.5 1309.0C2274.3 1328.7 2275.0 1344.8 2275.7 1359.0C2276.7 1378.3 2277.7 1394.3 2278.7 1409.0C2279.5 1421.3 2280.4 1432.1 2281.2 1442.3C2282.0 1451.9 2282.8 1469.0 2283.5 1469.0C2284.5 1469.0 2285.5 1453.6 2286.6 1442.3C2287.6 1430.2 2288.7 1416.6 2289.8 1392.3C2290.3 1381.5 2290.8 1360.7 2291.3 1342.3C2291.7 1327.3 2292.1 1304.4 2292.5 1292.3C2292.9 1278.0 2293.4 1267.4 2293.9 1259.0C2294.7 1245.2 2295.4 1235.6 2296.2 1227.0C2296.7 1221.2 2297.3 1212.0 2297.8 1212.0C2298.6 1212.0 2299.4 1221.7 2300.3 1227.0C2301.8 1236.8 2303.3 1247.3 2304.8 1259.0C2306.1 1269.1 2307.4 1280.4 2308.7 1292.3C2309.8 1302.7 2310.9 1314.2 2312.0 1325.7C2313.1 1336.4 2314.1 1348.2 2315.2 1359.0C2316.9 1376.2 2318.5 1394.0 2320.2 1409.0C2321.9 1424.3 2323.7 1438.4 2325.4 1450.7C2327.1 1463.1 2328.8 1474.0 2330.6 1484.0C2332.2 1493.1 2333.7 1506.3 2335.3 1509.0C2337.0 1511.8 2338.7 1514.0 2340.3 1514.0C2341.9 1514.0 2343.4 1514.0 2345.0 1514.0"/>
<path stroke="#009900" d="M293.0 1540.5C296.6 1540.4 300.2 1540.0 303.8 1539.5C310.8 1538.6 317.9 1535.0 325.0 1534.2C337.5 1532.9 350.0 1532.5 362.5 1531.8C370.8 1531.3 379.2 1531.2 387.5 1530.5C391.7 1530.1 395.8 1529.3 400.0 1528.0C403.3 1526.9 406.7 1523.8 410.0 1520.5C413.3 1517.2 416.7 1510.7 420.0 1505.5C422.1 1502.3 424.2 1496.1 426.2 1495.5C429.2 1494.7 432.1 1495.0 435.0 1494.2C438.3 1493.4 441.7 1485.9 445.0 1480.5C448.4 1475.0 451.7 1469.6 455.1 1460.5C457.2 1454.8 459.4 1444.7 461.5 1435.5C464.0 1424.4 466.6 1412.1 469.2 1398.0C472.0 1382.2 474.9 1363.3 477.8 1343.0C480.4 1324.4 483.1 1303.1 485.7 1280.5C488.1 1259.9 490.5 1236.8 492.9 1213.0C495.2 1191.0 497.4 1166.8 499.6 1143.0C500.4 1134.7 501.1 1126.2 501.9 1117.8C503.8 1097.8 505.6 1077.6 507.4 1057.5C509.3 1036.7 511.2 1015.7 513.1 995.0C514.6 978.3 516.1 961.5 517.7 945.0C519.2 928.2 520.8 911.4 522.3 895.0C523.9 878.1 525.5 861.4 527.1 845.0C528.8 828.1 530.4 811.4 532.1 795.0C533.8 778.1 535.5 761.4 537.2 745.0C539.0 728.1 540.7 711.4 542.5 695.0C544.7 674.5 546.9 654.3 549.1 634.5C551.5 613.3 553.9 592.5 556.3 572.0C558.7 550.8 561.2 529.5 563.6 509.5C566.3 487.9 569.0 465.5 571.6 447.0C574.7 425.6 577.8 406.0 580.8 389.5C584.2 371.4 587.5 356.0 590.9 342.0C594.0 329.0 597.1 317.7 600.3 307.0C602.6 298.9 605.0 287.8 607.3 284.5C610.7 279.7 614.1 275.8 617.5 275.8C620.9 275.8 624.3 279.8 627.6 284.5C629.7 287.3 631.7 295.7 633.8 302.0C636.5 310.3 639.2 319.3 641.9 329.5C644.7 339.8 647.4 351.6 650.1 364.5C652.7 376.4 655.2 390.4 657.7 404.5C660.1 417.9 662.5 432.7 665.0 447.0C667.5 461.9 670.0 477.6 672.5 492.0C675.1 506.7 677.7 521.2 680.2 534.5C683.3 550.4 686.3 564.8 689.4 579.5C692.3 593.1 695.1 605.9 698.0 619.5C700.5 631.8 703.1 643.9 705.7 657.0C708.1 669.1 710.5 681.9 712.9 695.0C715.1 707.1 717.3 719.8 719.5 732.5C722.0 747.3 724.6 762.6 727.2 777.5C729.9 793.5 732.6 809.4 735.4 825.0C738.4 841.9 741.3 858.5 744.3 875.0C747.3 891.9 750.4 908.5 753.4 925.0C756.5 941.8 759.6 958.5 762.7 975.0C765.9 991.8 769.0 1008.4 772.1 1025.0C775.0 1040.1 777.9 1055.3 780.7 1070.0C785.6 1094.9 790.4 1120.2 795.3 1143.0C797.9 1155.3 800.5 1167.0 803.1 1178.0C805.8 1189.4 808.4 1200.3 811.1 1210.5C813.9 1221.1 816.7 1231.1 819.5 1240.5C822.1 1249.3 824.7 1257.6 827.3 1265.5C830.1 1274.3 833.0 1283.7 835.9 1290.5C839.2 1298.5 842.6 1304.9 846.0 1310.5C848.9 1315.3 851.8 1323.0 854.8 1323.0C857.2 1323.0 859.8 1321.7 862.2 1320.5C865.2 1319.1 868.1 1314.2 871.0 1313.0C873.9 1311.8 876.8 1310.5 879.8 1310.5C881.0 1310.5 882.3 1313.0 883.5 1315.5C884.7 1318.0 886.0 1324.9 887.2 1330.5C888.5 1336.4 889.8 1344.0 891.1 1350.5C892.3 1356.5 893.5 1362.9 894.7 1368.0C895.5 1371.7 896.4 1378.0 897.3 1378.0C899.3 1378.0 901.4 1376.8 903.5 1376.8C906.0 1376.8 908.5 1381.6 911.0 1384.2C913.5 1386.9 916.0 1389.2 918.5 1393.0C920.2 1395.5 921.8 1399.0 923.5 1403.0C925.2 1407.0 926.8 1412.5 928.5 1418.0C929.8 1422.1 931.0 1429.8 932.2 1431.8C933.5 1433.7 934.8 1435.5 936.0 1435.5C937.7 1435.5 939.3 1428.9 941.0 1428.0C942.2 1427.3 943.5 1426.8 944.8 1426.8C945.6 1426.8 946.4 1437.2 947.2 1440.5C948.9 1447.2 950.6 1451.8 952.2 1455.5C955.2 1462.0 958.1 1466.8 961.0 1470.5C964.3 1474.7 967.7 1478.0 971.0 1480.5C975.2 1483.7 979.3 1485.9 983.5 1488.0C989.3 1490.9 995.2 1493.0 1001.0 1495.5C1007.7 1498.4 1014.3 1501.5 1021.0 1504.2C1029.3 1507.7 1037.7 1511.1 1046.0 1514.2C1054.3 1517.4 1062.7 1520.4 1071.0 1523.0C1079.3 1525.6 1087.7 1528.1 1096.0 1530.0C1104.3 1531.9 1112.7 1533.8 1121.0 1535.0C1129.3 1536.2 1137.7 1537.4 1146.0 1538.0C1154.3 1538.6 1162.7 1539.0 1171.0 1539.2C1187.7 1539.7 1204.3 1539.9 1221.0 1540.0C1261.2 1540.2 1301.5 1540.2 1341.8 1540.2C1375.2 1540.2 1408.6 1540.2 1442.0 1540.2C1472.0 1540.2 1502.0 1540.2 1532.0 1540.0C1537.8 1540.0 1543.7 1536.9 1549.5 1533.0C1553.7 1530.2 1557.8 1520.0 1562.0 1513.0C1565.3 1507.4 1568.7 1502.9 1572.0 1495.5C1575.1 1488.7 1578.1 1478.8 1581.2 1468.0C1585.0 1454.5 1588.9 1438.6 1592.7 1418.0C1595.7 1401.8 1598.7 1378.3 1601.7 1355.5C1605.6 1326.6 1609.4 1294.3 1613.2 1258.8C1615.1 1241.4 1616.9 1222.5 1618.8 1202.0C1620.2 1186.6 1621.6 1167.4 1623.0 1152.0C1624.6 1134.0 1626.3 1114.7 1627.9 1102.0C1630.2 1084.5 1632.4 1070.6 1634.7 1060.3C1635.9 1054.9 1637.0 1048.4 1638.2 1047.0C1640.0 1045.0 1641.7 1043.7 1643.5 1043.7C1644.6 1043.7 1645.8 1051.8 1646.9 1057.0C1648.6 1064.7 1650.3 1073.1 1652.1 1085.3C1653.5 1095.4 1654.9 1110.0 1656.3 1127.0C1657.4 1140.3 1658.5 1158.4 1659.6 1177.0C1660.4 1191.9 1661.3 1210.1 1662.2 1227.0C1662.8 1237.5 1663.3 1249.0 1663.9 1259.0C1664.7 1273.8 1665.5 1288.6 1666.3 1300.7C1667.4 1316.6 1668.4 1330.8 1669.5 1342.3C1671.3 1362.4 1673.2 1379.0 1675.1 1392.3C1677.4 1409.2 1679.8 1422.9 1682.1 1434.0C1684.2 1443.9 1686.3 1451.8 1688.4 1459.0C1689.5 1462.7 1690.6 1469.0 1691.6 1469.0C1692.7 1469.0 1693.7 1461.7 1694.8 1455.7C1696.5 1446.4 1698.1 1433.8 1699.7 1409.0C1700.4 1399.6 1701.0 1373.2 1701.6 1359.0C1702.6 1336.3 1703.6 1314.6 1704.6 1300.7C1705.8 1282.5 1707.1 1270.2 1708.4 1259.0C1709.0 1254.4 1709.5 1247.0 1710.0 1247.0C1710.5 1247.0 1711.0 1254.0 1711.5 1259.0C1712.6 1270.3 1713.7 1288.4 1714.8 1309.0C1715.6 1322.3 1716.3 1348.4 1717.0 1359.0C1718.4 1379.1 1719.7 1390.8 1721.1 1400.7C1722.4 1409.9 1723.7 1422.3 1725.0 1422.3C1726.2 1422.3 1727.5 1416.8 1728.7 1409.0C1729.6 1403.6 1730.4 1368.8 1731.3 1359.0C1732.7 1342.5 1734.2 1331.4 1735.6 1325.7C1737.1 1319.9 1738.5 1314.0 1740.0 1314.0C1741.1 1314.0 1742.2 1320.7 1743.3 1325.7C1744.4 1330.5 1745.6 1342.3 1746.7 1345.7C1747.8 1349.0 1748.9 1352.3 1750.0 1352.3C1751.4 1352.3 1752.8 1342.0 1754.2 1339.0C1755.6 1336.0 1756.9 1332.3 1758.3 1332.3C1759.7 1332.3 1761.1 1335.7 1762.5 1339.0C1763.9 1342.3 1765.3 1353.0 1766.7 1359.0C1767.8 1363.8 1768.9 1369.8 1770.0 1372.3C1771.4 1375.6 1772.8 1375.0 1774.2 1379.0C1775.0 1381.4 1775.8 1391.2 1776.7 1400.7C1777.5 1410.2 1778.3 1431.8 1779.2 1442.3C1780.3 1456.4 1781.4 1475.7 1782.5 1475.7C1783.6 1475.7 1784.7 1456.4 1785.8 1442.3C1786.7 1431.8 1787.5 1409.2 1788.3 1400.7C1789.2 1392.2 1790.0 1382.3 1790.8 1382.3C1792.2 1382.3 1793.6 1386.0 1795.0 1389.0C1796.7 1392.6 1798.3 1402.6 1800.0 1405.7C1802.2 1409.8 1804.4 1414.0 1806.7 1414.0C1808.9 1414.0 1811.1 1407.3 1813.3 1404.0C1815.6 1400.7 1817.8 1397.3 1820.0 1394.0C1822.2 1390.7 1824.5 1389.0 1826.7 1384.0C1828.1 1380.8 1829.6 1374.2 1831.0 1367.3C1832.7 1359.0 1834.5 1349.9 1836.2 1334.0C1837.0 1326.6 1837.8 1314.0 1838.6 1300.7C1839.3 1289.4 1840.0 1268.2 1840.7 1259.0C1842.1 1239.7 1843.6 1227.6 1845.0 1218.7C1846.9 1207.3 1848.7 1200.6 1850.6 1193.7C1851.8 1189.2 1852.9 1186.3 1854.1 1182.0C1855.9 1175.6 1857.7 1168.8 1859.5 1160.3C1861.4 1151.2 1863.3 1138.7 1865.2 1127.0C1866.9 1116.5 1868.6 1106.7 1870.3 1093.7C1871.5 1084.3 1872.8 1074.6 1874.0 1060.3C1874.7 1051.9 1875.5 1033.1 1876.2 1027.0C1877.8 1013.8 1879.3 1007.8 1880.9 1002.0C1882.3 997.0 1883.6 993.9 1885.0 990.3C1886.9 985.4 1888.9 981.3 1890.8 976.8C1893.5 970.6 1896.2 965.1 1899.0 958.3C1900.4 954.7 1901.9 947.7 1903.3 946.7C1904.7 945.7 1906.1 945.0 1907.5 945.0C1909.4 945.0 1911.4 948.7 1913.3 951.7C1915.3 954.7 1917.3 959.9 1919.3 965.0C1920.6 968.4 1921.9 972.2 1923.3 976.8C1924.6 981.5 1925.9 986.6 1927.3 993.7C1928.4 999.9 1929.6 1008.9 1930.8 1018.7C1931.8 1027.0 1932.8 1040.8 1933.8 1048.7C1935.1 1058.9 1936.4 1067.3 1937.7 1073.7C1938.7 1078.4 1939.7 1084.6 1940.6 1085.3C1942.0 1086.4 1943.4 1087.0 1944.8 1087.0C1946.2 1087.0 1947.6 1081.2 1949.0 1080.3C1950.4 1079.4 1951.8 1078.7 1953.2 1078.7C1954.3 1078.7 1955.4 1085.8 1956.5 1090.3C1957.6 1094.9 1958.7 1102.1 1959.8 1107.0C1960.9 1111.9 1962.1 1120.3 1963.2 1120.3C1964.3 1120.3 1965.4 1119.8 1966.5 1118.7C1967.4 1117.8 1968.2 1091.4 1969.1 1077.0C1970.0 1061.0 1971.0 1046.1 1972.0 1027.0C1972.4 1017.2 1972.9 1006.9 1973.4 993.7C1973.6 988.8 1973.8 981.8 1974.0 976.8C1974.5 961.4 1975.1 943.4 1975.7 936.7C1976.8 923.1 1977.9 917.7 1979.1 911.7C1979.6 909.0 1980.1 905.0 1980.6 905.0C1981.6 905.0 1982.5 912.6 1983.5 920.0C1984.4 927.2 1985.3 934.8 1986.3 961.7C1986.3 964.1 1986.4 972.8 1986.5 977.0C1986.9 998.4 1987.4 1014.5 1987.8 1027.0C1989.1 1064.5 1990.3 1080.8 1991.6 1110.3C1992.5 1131.3 1993.4 1145.5 1994.3 1177.0C1994.8 1194.8 1995.3 1239.0 1995.9 1258.8C1997.0 1304.1 1998.2 1339.7 1999.3 1359.0C2000.5 1378.8 2001.7 1390.1 2002.9 1400.7C2004.5 1414.7 2006.1 1425.8 2007.7 1434.0C2009.8 1444.8 2011.8 1453.5 2013.9 1459.0C2016.2 1465.0 2018.4 1470.5 2020.7 1472.3C2022.9 1474.1 2025.1 1475.7 2027.3 1475.7C2029.6 1475.7 2031.8 1474.1 2034.0 1472.3C2036.2 1470.6 2038.5 1464.4 2040.7 1459.0C2042.8 1453.8 2045.0 1446.2 2047.2 1439.0C2049.4 1431.4 2051.7 1423.3 2054.0 1414.0C2056.2 1405.1 2058.4 1395.3 2060.6 1384.0C2062.5 1374.3 2064.3 1363.3 2066.2 1350.7C2067.7 1340.9 2069.1 1329.6 2070.6 1317.3C2071.8 1307.3 2072.9 1295.7 2074.1 1284.0C2074.9 1276.1 2075.7 1267.8 2076.6 1259.0C2078.4 1238.7 2080.3 1217.5 2082.1 1193.7C2083.7 1173.5 2085.3 1151.4 2086.9 1127.0C2088.2 1106.8 2089.5 1084.7 2090.8 1060.3C2092.1 1035.3 2093.5 1007.2 2094.8 977.0C2095.7 956.9 2096.6 934.5 2097.5 911.7C2098.3 890.5 2099.1 867.5 2100.0 845.0C2100.8 823.1 2101.6 799.9 2102.4 778.3C2103.5 749.7 2104.5 720.7 2105.6 695.0C2106.8 665.6 2108.0 637.8 2109.3 613.0C2110.5 588.7 2111.6 565.9 2112.8 546.3C2114.4 521.2 2115.9 498.1 2117.4 479.7C2118.8 463.5 2120.1 450.2 2121.5 438.0C2122.5 428.7 2123.5 420.6 2124.6 413.0C2126.1 401.3 2127.7 391.1 2129.3 381.0C2130.2 375.2 2131.1 367.2 2132.0 364.3C2133.7 359.0 2135.3 356.6 2137.0 354.3C2139.2 351.3 2141.4 349.9 2143.7 347.7C2145.9 345.4 2148.2 345.0 2150.4 341.0C2151.2 339.6 2152.0 334.8 2152.8 331.0C2154.3 324.0 2155.8 315.5 2157.3 306.0C2158.4 298.7 2159.5 289.1 2160.7 281.0C2161.6 274.2 2162.6 266.9 2163.6 261.0C2164.6 254.8 2165.6 249.1 2166.6 244.3C2168.2 237.2 2169.7 226.0 2171.2 226.0C2173.1 226.0 2174.9 260.5 2176.8 281.0C2178.6 300.6 2180.3 324.5 2182.1 347.7C2183.7 368.5 2185.3 392.4 2186.9 412.8C2188.3 430.5 2189.7 447.9 2191.1 463.0C2192.6 479.5 2194.2 508.0 2195.7 508.0C2196.8 508.0 2197.9 494.0 2199.0 488.0C2200.1 481.9 2201.2 473.7 2202.3 471.3C2204.6 466.6 2206.8 465.8 2209.0 463.0C2210.7 460.8 2212.4 456.3 2214.1 456.3C2215.2 456.3 2216.3 465.4 2217.4 471.3C2219.2 480.6 2220.9 492.8 2222.7 506.3C2224.1 517.7 2225.6 534.4 2227.1 546.3C2228.6 558.6 2230.1 569.0 2231.6 579.7C2233.2 591.2 2234.8 601.3 2236.5 613.0C2237.9 623.5 2239.4 634.2 2240.8 646.3C2242.6 661.0 2244.4 676.6 2246.2 694.8C2248.0 714.2 2249.9 736.0 2251.8 761.7C2253.2 780.8 2254.6 803.6 2256.0 828.3C2256.8 843.4 2257.7 860.8 2258.5 878.3C2259.3 894.1 2260.1 911.1 2260.8 928.3C2261.5 943.9 2262.2 960.3 2262.9 976.8C2263.8 998.6 2264.7 1021.4 2265.7 1043.7C2266.6 1065.9 2267.5 1088.7 2268.4 1110.3C2269.3 1133.1 2270.3 1157.2 2271.2 1177.0C2272.1 1195.4 2273.0 1214.2 2273.9 1227.0C2274.8 1240.1 2275.7 1250.2 2276.7 1258.8C2277.7 1268.8 2278.7 1276.9 2279.8 1284.0C2281.2 1293.7 2282.6 1301.6 2284.1 1309.0C2285.0 1313.9 2286.0 1322.3 2286.9 1322.3C2288.3 1322.3 2289.7 1315.4 2291.2 1309.0C2292.3 1304.0 2293.4 1293.1 2294.5 1284.0C2295.6 1275.0 2296.7 1254.5 2297.8 1254.5C2299.2 1254.5 2300.6 1256.1 2302.0 1259.0C2303.1 1261.3 2304.2 1292.6 2305.4 1309.0C2306.5 1326.0 2307.7 1344.8 2308.8 1359.0C2310.4 1378.4 2312.0 1395.2 2313.6 1409.0C2315.1 1422.0 2316.6 1432.7 2318.1 1442.3C2320.1 1455.1 2322.0 1465.8 2324.0 1475.7C2325.8 1484.9 2327.7 1493.0 2329.5 1500.7C2330.6 1505.1 2331.7 1512.6 2332.8 1513.2C2334.7 1514.3 2336.7 1514.8 2338.7 1514.8C2340.8 1514.8 2342.9 1514.8 2345.0 1514.8"/>
<path stroke="#0000AA" d="M308.0 1540.5C338.7 1540.5 369.3 1540.4 400.0 1540.2C408.3 1540.2 416.7 1539.8 425.0 1539.2C431.7 1538.8 438.3 1537.9 445.0 1535.5C448.4 1534.3 451.8 1527.9 455.2 1520.5C457.0 1516.5 458.9 1507.8 460.8 1500.5C463.6 1489.4 466.4 1477.4 469.2 1463.0C472.1 1448.1 475.1 1430.1 478.0 1410.5C480.4 1394.2 482.8 1374.0 485.3 1355.5C487.8 1336.5 490.3 1316.8 492.7 1298.0C495.2 1279.3 497.7 1261.0 500.2 1243.0C502.6 1225.2 505.1 1207.7 507.5 1190.5C510.0 1172.7 512.6 1155.3 515.1 1138.0C516.1 1131.2 517.1 1124.4 518.1 1117.8C521.2 1097.2 524.3 1076.8 527.4 1057.5C530.9 1035.8 534.4 1014.9 537.8 995.0C540.9 977.6 543.9 960.9 547.0 945.0C550.3 927.6 553.6 910.9 557.0 895.0C559.7 882.0 562.5 869.6 565.2 857.5C566.2 852.8 567.3 847.4 568.3 843.8C570.2 837.2 572.1 833.1 574.0 828.0C576.0 822.6 578.0 817.0 580.0 812.5C581.8 808.4 583.7 804.9 585.5 801.5C587.0 798.7 588.5 796.1 590.0 793.8C591.5 791.5 592.9 789.1 594.4 787.6C595.8 786.2 597.1 785.0 598.5 784.4C599.9 783.8 601.4 783.2 602.8 783.2C604.2 783.2 605.6 783.8 607.0 784.4C608.4 785.0 609.8 786.1 611.2 787.6C612.5 788.9 613.8 791.5 615.0 793.8C616.5 796.4 618.0 799.3 619.5 802.5C620.9 805.5 622.3 809.3 623.8 812.5C626.2 817.9 628.6 822.8 631.0 828.0C633.6 833.6 636.2 837.5 638.7 845.0C641.7 853.7 644.7 872.9 647.7 885.0C650.9 897.7 654.0 909.4 657.1 920.0C660.7 931.9 664.2 942.6 667.7 952.5C671.0 961.5 674.2 969.8 677.5 977.5C681.6 987.4 685.8 996.3 690.0 1005.0C694.2 1013.7 698.3 1021.3 702.5 1030.0C706.7 1038.8 710.9 1046.6 715.1 1057.5C718.0 1065.2 721.0 1074.9 724.0 1085.0C726.8 1094.9 729.7 1107.1 732.6 1118.0C735.0 1127.2 737.5 1137.1 739.9 1145.5C743.1 1156.4 746.2 1166.3 749.4 1175.5C753.8 1188.2 758.2 1199.5 762.6 1210.5C766.8 1221.1 771.0 1230.8 775.2 1240.5C779.3 1250.0 783.4 1260.8 787.5 1268.0C790.3 1273.0 793.2 1275.9 796.0 1280.5C800.2 1287.2 804.3 1295.5 808.5 1303.0C812.7 1310.5 816.8 1319.4 821.0 1325.5C824.3 1330.4 827.7 1336.1 831.0 1338.0C834.3 1339.9 837.7 1341.8 841.0 1341.8C843.5 1341.8 846.0 1341.2 848.5 1341.2C851.0 1341.2 853.5 1343.0 856.0 1343.0C857.7 1343.0 859.3 1338.8 861.0 1335.5C862.7 1332.2 864.3 1324.9 866.0 1320.5C868.5 1313.9 871.0 1307.9 873.5 1303.0C875.6 1299.0 877.7 1295.0 879.8 1292.5C881.2 1290.8 882.6 1288.5 884.0 1288.5C885.2 1288.5 886.3 1290.5 887.5 1293.0C888.3 1294.8 889.2 1300.6 890.0 1305.5C891.2 1312.3 892.3 1322.9 893.5 1330.5C894.8 1338.7 896.0 1352.2 897.2 1353.0C900.2 1354.8 903.1 1353.9 906.0 1355.5C907.7 1356.4 909.3 1363.3 911.0 1365.5C912.7 1367.7 914.3 1369.2 916.0 1370.5C918.1 1372.1 920.2 1372.2 922.2 1374.2C923.9 1375.9 925.6 1381.2 927.2 1385.5C928.9 1389.8 930.6 1396.2 932.2 1400.5C933.5 1403.8 934.8 1409.2 936.0 1409.2C937.7 1409.2 939.3 1397.8 941.0 1395.5C941.8 1394.3 942.7 1393.0 943.5 1393.0C944.3 1393.0 945.2 1397.4 946.0 1400.5C947.2 1405.2 948.5 1415.4 949.8 1420.5C951.8 1429.0 953.9 1436.6 956.0 1440.5C959.3 1446.7 962.7 1449.5 966.0 1453.0C970.2 1457.4 974.3 1462.1 978.5 1464.2C984.3 1467.3 990.2 1468.5 996.0 1470.5C1001.0 1472.2 1006.0 1473.6 1011.0 1475.5C1017.7 1478.0 1024.3 1481.8 1031.0 1484.2C1037.7 1486.7 1044.3 1488.6 1051.0 1490.5C1057.7 1492.4 1064.3 1493.7 1071.0 1495.5C1079.3 1497.8 1087.7 1500.5 1096.0 1503.0C1104.3 1505.5 1112.7 1508.0 1121.0 1510.5C1129.3 1513.0 1137.7 1515.5 1146.0 1518.0C1154.3 1520.5 1162.7 1523.2 1171.0 1525.5C1179.3 1527.8 1187.7 1530.1 1196.0 1531.8C1201.0 1532.7 1206.0 1534.2 1211.0 1534.2C1214.3 1534.2 1217.7 1531.8 1221.0 1531.8C1222.7 1531.8 1224.3 1535.3 1226.0 1535.5C1232.7 1536.4 1239.3 1536.8 1246.0 1536.8C1254.3 1536.8 1262.7 1536.8 1271.0 1536.8C1283.5 1536.8 1296.0 1535.8 1308.5 1535.5C1319.6 1535.3 1330.7 1535.0 1341.8 1535.0C1358.5 1535.0 1375.2 1535.2 1392.0 1535.5C1408.7 1535.8 1425.3 1537.3 1442.0 1538.0C1458.7 1538.7 1475.3 1540.0 1492.0 1540.0C1508.7 1540.0 1525.3 1540.0 1542.0 1540.0C1546.2 1540.0 1550.3 1537.9 1554.5 1535.5C1558.7 1533.1 1562.9 1525.6 1567.1 1518.0C1570.9 1510.9 1574.8 1499.7 1578.7 1488.0C1582.2 1477.6 1585.6 1465.4 1589.1 1450.5C1591.9 1438.2 1594.8 1422.2 1597.7 1405.5C1600.2 1390.7 1602.7 1373.9 1605.2 1355.5C1607.3 1340.4 1609.4 1323.8 1611.5 1305.5C1613.1 1291.3 1614.7 1274.2 1616.3 1258.8C1618.0 1242.5 1619.7 1224.6 1621.4 1210.3C1623.2 1194.8 1625.1 1180.6 1627.0 1168.7C1628.9 1156.0 1630.9 1145.1 1632.9 1135.3C1634.1 1129.2 1635.3 1121.7 1636.6 1118.7C1638.3 1114.5 1640.0 1114.2 1641.7 1110.3C1642.6 1108.4 1643.4 1105.4 1644.3 1102.0C1645.8 1095.9 1647.3 1089.4 1648.9 1077.0C1649.7 1070.3 1650.5 1052.6 1651.3 1043.7C1652.6 1030.0 1653.9 1017.1 1655.2 1010.3C1656.8 1001.7 1658.4 992.0 1660.0 992.0C1661.2 992.0 1662.3 1008.9 1663.4 1018.7C1665.2 1033.5 1666.9 1050.5 1668.6 1068.7C1670.3 1086.3 1672.0 1107.2 1673.6 1127.0C1675.3 1146.1 1676.9 1164.9 1678.5 1185.3C1679.8 1201.2 1681.0 1217.7 1682.3 1235.3C1682.8 1242.9 1683.4 1251.9 1683.9 1259.0C1684.8 1271.4 1685.8 1283.6 1686.7 1292.3C1688.2 1306.3 1689.7 1316.8 1691.2 1325.7C1692.5 1333.0 1693.7 1344.0 1695.0 1344.0C1696.2 1344.0 1697.5 1333.6 1698.8 1325.7C1700.0 1317.8 1701.3 1311.0 1702.5 1292.3C1702.9 1286.5 1703.3 1275.5 1703.7 1258.8C1703.9 1246.8 1704.2 1201.2 1704.5 1193.7C1705.5 1166.4 1706.5 1161.1 1707.5 1152.0C1708.6 1142.2 1709.7 1130.3 1710.8 1130.3C1712.0 1130.3 1713.2 1142.4 1714.3 1152.0C1715.5 1161.3 1716.6 1174.7 1717.7 1193.7C1718.3 1203.5 1718.9 1225.1 1719.5 1235.3C1720.1 1245.3 1720.6 1253.8 1721.2 1259.0C1722.3 1269.3 1723.4 1275.2 1724.5 1280.7C1725.2 1284.0 1725.9 1289.0 1726.6 1289.0C1727.4 1289.0 1728.1 1284.1 1728.8 1280.7C1730.0 1275.4 1731.1 1271.8 1732.2 1258.8C1732.8 1251.9 1733.4 1210.1 1734.0 1202.0C1735.5 1182.5 1736.9 1168.7 1738.3 1168.7C1739.7 1168.7 1741.1 1177.3 1742.5 1185.3C1743.6 1191.8 1744.7 1208.7 1745.8 1218.7C1747.2 1231.1 1748.6 1252.0 1750.0 1252.0C1751.4 1252.0 1752.8 1236.3 1754.2 1227.0C1755.3 1219.6 1756.4 1206.2 1757.5 1202.0C1758.6 1197.8 1759.7 1193.7 1760.8 1193.7C1762.2 1193.7 1763.6 1203.6 1765.0 1210.3C1766.1 1215.7 1767.2 1227.8 1768.3 1230.3C1770.0 1234.1 1771.7 1234.3 1773.3 1237.0C1774.4 1238.8 1775.6 1237.8 1776.7 1243.7C1776.8 1244.2 1776.9 1264.3 1777.0 1267.3C1777.7 1289.8 1778.4 1291.0 1779.2 1300.7C1780.3 1315.3 1781.4 1339.0 1782.5 1339.0C1783.9 1339.0 1785.3 1316.1 1786.7 1300.7C1787.6 1290.2 1788.6 1269.8 1789.5 1262.0C1790.2 1256.0 1791.0 1248.7 1791.7 1248.7C1792.7 1248.7 1793.7 1254.7 1794.7 1258.0C1795.3 1259.9 1795.9 1262.1 1796.5 1264.0C1798.2 1269.8 1800.0 1276.2 1801.7 1280.7C1803.9 1286.3 1806.1 1294.8 1808.3 1294.8C1810.6 1294.8 1812.8 1287.1 1815.0 1284.0C1817.2 1280.9 1819.4 1278.5 1821.7 1275.7C1823.9 1272.9 1826.1 1273.3 1828.3 1267.3C1828.6 1266.5 1828.9 1261.8 1829.2 1258.8C1830.6 1246.3 1832.0 1232.7 1833.3 1218.7C1834.9 1202.8 1836.4 1184.8 1838.0 1168.7C1839.6 1151.5 1841.3 1134.0 1842.9 1118.7C1843.9 1109.8 1844.9 1096.9 1845.8 1093.7C1847.2 1089.0 1848.6 1085.3 1850.0 1085.3C1851.4 1085.3 1852.8 1089.2 1854.2 1093.7C1855.3 1097.3 1856.4 1115.2 1857.5 1118.7C1858.6 1122.2 1859.7 1125.3 1860.9 1125.3C1861.8 1125.3 1862.8 1117.1 1863.7 1110.3C1865.1 1100.4 1866.5 1079.7 1867.9 1060.3C1868.8 1048.4 1869.6 1027.1 1870.5 1018.7C1871.7 1006.6 1872.9 996.2 1874.2 993.7C1875.6 990.8 1877.0 988.7 1878.4 988.7C1879.7 988.7 1881.1 996.9 1882.4 1002.0C1884.5 1009.9 1886.5 1020.2 1888.6 1030.3C1890.0 1037.1 1891.4 1044.3 1892.7 1052.0C1894.6 1062.2 1896.4 1073.1 1898.2 1085.3C1899.7 1095.4 1901.2 1109.6 1902.7 1118.7C1904.0 1126.5 1905.4 1138.7 1906.7 1138.7C1908.0 1138.7 1909.4 1127.0 1910.8 1118.7C1912.2 1110.3 1913.6 1095.5 1915.0 1085.3C1916.4 1075.1 1917.8 1061.0 1919.2 1057.0C1920.7 1052.6 1922.3 1048.7 1923.8 1048.7C1925.0 1048.7 1926.1 1065.4 1927.3 1077.0C1928.5 1089.7 1929.8 1108.5 1931.0 1127.0C1931.9 1139.5 1932.7 1157.2 1933.6 1168.7C1934.8 1185.2 1936.0 1199.5 1937.2 1210.3C1938.5 1221.9 1939.9 1230.7 1941.2 1238.7C1942.7 1247.8 1944.2 1262.0 1945.7 1262.0C1947.3 1262.0 1949.0 1250.4 1950.7 1243.7C1951.8 1239.1 1952.9 1230.5 1954.0 1228.7C1955.1 1226.8 1956.2 1225.3 1957.3 1225.3C1958.7 1225.3 1960.1 1233.0 1961.5 1237.0C1962.6 1240.3 1963.8 1247.0 1964.9 1247.0C1965.6 1247.0 1966.4 1240.0 1967.1 1235.3C1968.1 1228.9 1969.1 1225.0 1970.1 1210.3C1970.7 1202.1 1971.2 1168.6 1971.8 1143.7C1972.4 1119.2 1972.9 1074.0 1973.5 1060.3C1974.8 1027.9 1976.1 1016.9 1977.4 1002.0C1977.9 996.1 1978.4 987.0 1979.0 987.0C1979.6 987.0 1980.2 1001.2 1980.9 1010.3C1982.1 1027.9 1983.4 1048.0 1984.6 1077.0C1985.3 1093.6 1986.0 1120.1 1986.8 1143.7C1987.4 1164.6 1988.0 1192.2 1988.7 1210.3C1989.3 1229.5 1990.0 1245.7 1990.7 1258.8C1991.3 1272.1 1992.0 1283.1 1992.7 1292.3C1993.6 1305.6 1994.6 1316.4 1995.6 1325.7C1997.0 1338.9 1998.3 1349.6 1999.7 1359.0C2001.6 1372.0 2003.5 1382.6 2005.4 1392.3C2007.1 1401.1 2008.8 1411.3 2010.5 1415.7C2012.8 1421.4 2015.1 1425.3 2017.3 1427.3C2019.6 1429.4 2021.8 1431.5 2024.0 1431.5C2026.3 1431.5 2028.5 1429.5 2030.8 1427.3C2033.0 1425.2 2035.3 1418.8 2037.5 1414.0C2039.6 1409.4 2041.8 1404.4 2044.0 1399.0C2046.0 1393.9 2048.0 1388.5 2050.0 1382.3C2051.9 1376.4 2053.9 1370.0 2055.8 1362.3C2057.9 1353.9 2060.1 1344.4 2062.2 1332.3C2063.7 1323.7 2065.2 1312.9 2066.7 1300.7C2067.6 1293.5 2068.5 1284.5 2069.4 1275.7C2070.0 1270.4 2070.5 1264.8 2071.1 1258.8C2072.4 1243.9 2073.8 1228.4 2075.1 1210.3C2076.6 1190.8 2078.1 1169.0 2079.6 1143.7C2080.7 1124.3 2081.8 1101.6 2083.0 1077.0C2083.7 1061.9 2084.3 1044.6 2085.0 1027.0C2085.7 1011.2 2086.3 993.8 2086.9 976.8C2087.7 955.5 2088.5 932.7 2089.3 911.7C2090.1 888.7 2091.0 866.5 2091.8 845.0C2092.7 822.1 2093.7 800.2 2094.6 778.3C2095.3 761.4 2096.0 744.9 2096.7 728.3C2097.2 717.2 2097.6 706.1 2098.1 695.0C2099.5 662.3 2100.9 630.1 2102.3 596.3C2103.4 569.2 2104.5 541.9 2105.7 513.0C2106.3 496.9 2106.9 479.2 2107.6 463.0C2108.2 445.9 2108.9 426.1 2109.5 413.0C2110.4 396.5 2111.2 383.2 2112.0 372.7C2113.1 358.9 2114.2 348.6 2115.3 339.3C2116.5 329.6 2117.6 321.7 2118.8 314.3C2119.9 306.9 2121.1 300.4 2122.3 294.3C2123.4 288.3 2124.6 282.8 2125.8 277.7C2126.7 273.5 2127.7 267.5 2128.6 266.0C2129.7 264.2 2130.9 263.1 2132.0 262.7C2133.1 262.2 2134.2 261.8 2135.3 261.8C2137.0 261.8 2138.7 264.7 2140.3 266.0C2142.3 267.5 2144.2 270.2 2146.2 270.2C2148.1 270.2 2150.1 267.2 2152.0 264.3C2153.7 261.9 2155.3 255.7 2157.0 251.0C2158.7 246.3 2160.3 240.4 2162.0 236.0C2163.7 231.6 2165.3 226.2 2167.0 224.3C2168.4 222.7 2169.9 221.0 2171.3 221.0C2172.1 221.0 2172.9 227.3 2173.7 231.0C2175.3 238.2 2176.9 245.8 2178.5 256.0C2179.8 264.8 2181.2 275.4 2182.5 289.3C2183.6 299.9 2184.6 314.0 2185.6 331.0C2186.3 342.2 2187.0 358.5 2187.6 372.7C2188.3 385.9 2188.9 401.2 2189.5 413.0C2190.2 425.5 2190.8 436.9 2191.5 446.3C2192.4 459.3 2193.3 470.0 2194.2 479.7C2194.7 484.6 2195.2 493.0 2195.6 493.0C2196.7 493.0 2197.9 474.6 2199.0 463.0C2199.8 454.4 2200.7 433.0 2201.5 433.0C2202.9 433.0 2204.3 453.9 2205.7 456.3C2207.3 459.2 2209.0 460.0 2210.7 461.3C2212.4 462.7 2214.0 462.4 2215.7 464.7C2216.4 465.6 2217.1 474.7 2217.9 479.7C2219.5 491.0 2221.2 502.0 2222.8 513.0C2224.5 524.2 2226.2 535.1 2227.8 546.3C2229.5 557.3 2231.1 568.2 2232.8 579.7C2234.3 590.4 2235.8 601.3 2237.3 613.0C2238.7 623.5 2240.1 634.4 2241.5 646.3C2243.2 661.2 2244.9 676.9 2246.6 694.8C2248.5 714.7 2250.4 736.5 2252.3 761.7C2253.8 781.2 2255.3 803.7 2256.7 828.3C2257.7 843.5 2258.6 860.5 2259.5 878.3C2260.3 893.9 2261.1 910.8 2261.8 928.3C2262.5 943.7 2263.2 960.0 2263.9 976.8C2264.8 998.2 2265.7 1021.2 2266.6 1043.7C2267.4 1065.7 2268.3 1088.8 2269.1 1110.3C2270.1 1133.3 2271.0 1156.7 2271.9 1177.0C2272.7 1195.1 2273.5 1212.8 2274.3 1227.0C2275.0 1239.2 2275.7 1249.8 2276.4 1259.0C2277.4 1271.8 2278.4 1282.8 2279.4 1292.3C2280.7 1305.2 2282.0 1315.9 2283.3 1325.7C2284.5 1334.4 2285.7 1349.0 2286.9 1349.0C2288.6 1349.0 2290.3 1338.0 2292.0 1325.7C2292.8 1319.7 2293.7 1302.7 2294.5 1292.3C2295.6 1278.5 2296.7 1253.7 2297.8 1253.7C2298.8 1253.7 2299.8 1267.3 2300.7 1275.0C2302.0 1285.2 2303.3 1296.7 2304.6 1309.0C2306.2 1324.1 2307.7 1342.6 2309.3 1359.0C2310.9 1375.9 2312.6 1394.2 2314.2 1409.0C2315.6 1421.3 2316.9 1432.5 2318.3 1442.3C2320.0 1454.8 2321.7 1465.8 2323.4 1475.7C2325.0 1484.9 2326.6 1493.0 2328.3 1500.7C2329.5 1506.6 2330.8 1516.7 2332.1 1517.3C2334.3 1518.5 2336.5 1519.0 2338.7 1519.0C2340.8 1519.0 2342.9 1519.0 2345.0 1519.0"/>
</g>
<g class="tk" text-anchor="end">
<text x="222.5" y="1561.4">0.0</text>
<text x="222.5" y="1260.5">0.2</text>
<text x="222.5" y="959.7">0.4</text>
<text x="222.5" y="658.8">0.6</text>
<text x="222.5" y="358.0">0.8</text>
<text x="222.5" y="57.1">1.0</text>
</g>
<g class="tk" text-anchor="middle">
<text x="272.6" y="1645">4000</text>
<text x="561.3" y="1645">3500</text>
<text x="849.9" y="1645">3000</text>
<text x="1138.6" y="1645">2500</text>
<text x="1427.2" y="1645">2000</text>
<text x="1715.9" y="1645">1500</text>
<text x="2004.5" y="1645">1000</text>
<text x="2293.2" y="1645">500</text>
</g>
<text class="ax" transform="translate(71.2 789.5) rotate(-90)" text-anchor="middle">Absorbance</text>
<text class="ax" x="943" y="1808.5">Wavenumber (cm<tspan dy="-36">-1</tspan><tspan dy="36">)</tspan></text>
<rect class="fr" x="738.7" y="72" width="929.5" height="496.7" fill="#fff"/>
<line x1="779" x2="915" y1="147.2" y2="147.2" stroke="#979700" stroke-width="8"/>
<text class="lg" x="945.6" y="167.6">kraft lignin</text>
<line x1="779" x2="915" y1="220.8" y2="220.8" stroke="#AA0000" stroke-width="8"/>
<text class="lg" x="945.6" y="241.2">magnesium lignosulfonate</text>
<line x1="779" x2="915" y1="303.5" y2="303.5" stroke="#000000" stroke-width="8"/>
<text class="lg" x="945.6" y="313.8">Al<tspan dy="17.5">2</tspan><tspan dy="-17.5">O</tspan><tspan dy="17.5">3</tspan></text>
<line x1="779" x2="915" y1="394.5" y2="394.5" stroke="#009900" stroke-width="8"/>
<text class="lg" x="945.6" y="404.8">Al<tspan dy="17.5">2</tspan><tspan dy="-17.5">O</tspan><tspan dy="17.5">3</tspan><tspan dy="-17.5">-LS</tspan></text>
<line x1="779" x2="915" y1="485.0" y2="485.0" stroke="#0000AA" stroke-width="8"/>
<text class="lg" x="945.6" y="495.8">Al<tspan dy="17.5">2</tspan><tspan dy="-17.5">O</tspan><tspan dy="17.5">3</tspan><tspan dy="-17.5">-LIG</tspan></text>
</svg></body></html>
